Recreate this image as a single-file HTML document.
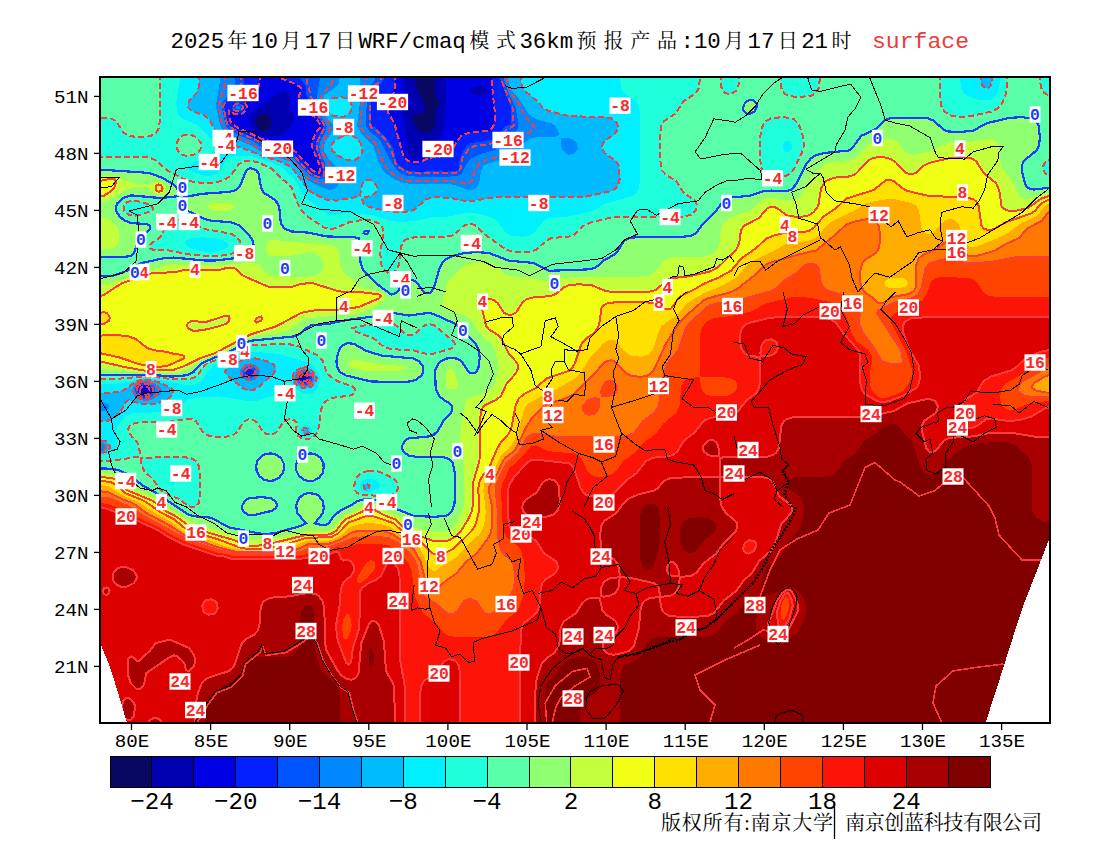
<!DOCTYPE html><html><head><meta charset="utf-8"><title>WRF/cmaq surface temperature</title>
<style>html,body{margin:0;padding:0;background:#fff}svg{display:block}text{font-family:'Liberation Serif','Noto Serif CJK SC',serif}.m{font-family:'Liberation Mono',monospace}</style></head><body>
<svg width="1100" height="850" viewBox="0 0 1100 850">
<rect width="1100" height="850" fill="#fff"/>
<defs><clipPath id="mc"><rect x="100" y="77" width="950" height="646"/></clipPath></defs>
<g clip-path="url(#mc)" shape-rendering="crispEdges">
<rect x="100" y="77" width="950" height="646" fill="#080862"/>
<path fill="#0000b0" d="M61.2,38.2 420.3,38.2 420.3,68.2 415,83.2 416.2,87.7 424,103.2 425,108.2 424.5,110.8 421.9,113.2 413.8,114.5 411.8,115.8 413.1,120.8 417,128.2 421.2,132 426.2,133.4 431.7,130.8 435.2,125.8 434.6,110.8 438.8,106 439.7,103.2 439.6,100.8 435.4,95.8 434.9,93.2 434.6,38.2 1098.8,38.2 1098.8,755.8 61.2,755.8ZM263.8,113.1 258.1,115.8 255.9,118.2 255.4,120.8 258.8,128.5 261.2,130.7 263.8,131 268.8,128.4 271.6,123.2 271.6,120.8 268.1,115.8 266.2,113.6Z"/>
<path fill="#0000e4" d="M61.2,38.2 404.8,38.2 404.8,75.8 403.4,83.2 406.2,91.9 411.2,100.5 411.8,103.2 409.4,105.8 403.8,109 402.3,110.8 402.2,113.2 404.9,123.2 406.2,136.6 408.5,145.8 408.1,155.8 411.2,158 413.7,158.3 418.8,157.8 420.8,155.8 420.6,150.8 421.6,145.8 425.1,143.2 433.8,140.6 438.8,138 442.6,133.2 444.2,128.2 446.3,93.2 445.1,73.2 445.1,38.2 1098.8,38.2 1098.8,755.8 61.2,755.8ZM143.8,388.9 142.6,390.8 143.8,392 146.2,391.6 146.2,389.4ZM278.8,92.6 256.2,109.3 250.1,115.8 249.1,118.2 249.5,120.8 252.9,128.2 257.6,133.2 261.2,135.4 266.2,136.4 278.8,136.3 283.8,134 287.8,130.8 292.5,123.2 294.4,118.2 294.1,115.8 290.8,110.8 290.1,108.2 290.8,98.2 289.8,95.8 286.2,92.2 283.8,91.2ZM481.2,85.4 470.3,88.2 469.8,90.8 471.2,93.3 478.8,96.1 481.2,96.1 486.2,93.2 487.3,90.8 486.5,88.3 483.8,85.7Z"/>
<path fill="#0420ff" d="M61.2,38.2 260.2,38.2 260.2,75.8 259,85.8 256.7,90.8 252.5,95.8 243.6,100.8 246.7,105.8 246.8,108.2 243.8,112.6 241.2,114 236.2,114.5 231.2,112.7 228.8,110.3 228.5,113.2 230.9,123.2 238.8,128.2 261.2,138.5 288.8,146.8 296.2,152.5 313,170.8 318.7,173.3 320,170.8 319.9,165.8 312.5,148.2 311.7,143.2 315.5,133.2 319.8,128.2 320.8,125.8 317.9,120.8 313.8,116.2 303.9,110.8 302.2,108.2 298.6,98.2 301.2,87.6 293.7,83.2 280.7,78.2 279.9,73.2 279.9,38.2 395.4,38.2 394.8,88.2 393.5,93.2 387.8,103.2 386.9,108.2 388.4,113.2 394.3,123.2 403.3,155.8 404.7,158.2 408.8,161.4 416.2,162.3 421.2,161.8 428.8,157.9 446.3,155.8 451.2,152.4 457.2,140.8 461.5,135.8 468.8,132.7 488.2,130.8 491.3,128.9 493.5,125.8 494.7,120.8 494.9,113.2 491.8,83.2 491.5,38.2 1098.8,38.2 1098.8,755.8 61.2,755.8ZM141.2,387.3 139.6,390.8 141.2,393.7 146.2,394.7 148.8,393.3 149.7,390.8 148.8,387.9 146.2,386.2 143.8,386ZM248.8,372.5 248.8,373.5 250,373.2ZM303.8,374.7 301.5,375.8 300.6,378.2 302.2,380.8 306.2,381.2 308.7,378.2 307.6,375.8Z"/>
<path fill="#0054ff" d="M61.2,38.2 244.8,38.2 244.1,85.8 242.8,90.8 240,95.8 226.2,102.3 224,105.8 227.8,123.2 231.2,127.3 236.2,130.2 256.2,138.9 268.8,146.3 293.8,154.7 311.2,172.9 318.8,176.4 321.2,176.4 323.1,173.2 322.7,165.8 316.6,150.8 315.5,143.2 323.9,125.8 312.4,108.2 306.2,93.8 305.6,85.8 300.2,78.2 300,38.2 384.6,38.2 384.4,78.2 381.5,83.2 373.8,87.1 371.8,90.8 370.9,123.2 372.3,125.8 379.6,130.8 384.8,135.8 391.8,145.8 394.2,150.8 396.2,161.5 398.8,165.2 408.8,171.1 421.2,171.9 431.2,170.8 446.2,171.7 456.8,170.7 459,168.2 459.7,158.2 466.6,145.8 471.2,142.9 486.2,141.2 493.8,139 498.8,135.1 503.8,127.8 506.2,125.9 511.2,124.5 511.4,108.2 497.8,73.2 497.6,38.2 1098.8,38.2 1098.8,755.8 61.2,755.8ZM141.2,384.8 137.7,388.2 137.3,390.8 138.1,393.2 140.7,395.8 143.8,396.8 148.9,395.8 151.5,393.2 152.3,390.8 151.8,388.2 149.7,385.8 146.2,384.2ZM246.2,370.1 245.1,373.2 246.9,375.8 251.2,376.1 254,373.2 253.9,370.8 251.2,368.6 248.8,368.5ZM303.8,372.9 301.2,373.6 299,375.8 298.5,378.2 301.2,382.3 306.2,383.1 309.6,380.8 310.7,378.2 308.8,374.4ZM235.2,103.2 236.2,102.2 238.8,102.3 243.5,105.8 243.9,108.2 241.2,111.2 236.2,111.8 233.8,111.1 231.8,108.2 232.7,105.8Z"/>
<path fill="#0088ff" d="M61.2,38.2 235.2,38.2 234.5,85.8 231.7,93.2 223.8,100.8 221.4,105.8 225.9,125.8 228.8,129.3 233.8,132.7 253.8,141.5 266.2,150.3 293.7,158.5 308.8,174.8 313.8,177.4 321.2,179.2 324.2,178.2 326.2,175.8 326.1,173.2 324.9,163.2 320.4,153.2 319.2,145.8 320.6,140.8 325.6,130.8 326.7,125.8 319.2,113.3 316.7,103.2 317.1,95.8 319.9,78.2 320,38.2 375.2,38.2 375.1,78.2 374.3,80.8 370,85.8 368.2,90.8 365.5,118.2 366,125.7 368.8,130.3 380.4,140.8 391.9,163.2 396.2,169.3 401.2,173.4 406.2,175.7 421.2,177.1 448.8,176.9 458.8,175.4 462.1,173.2 467,163.2 471.2,158.2 478.8,154.5 496.2,149.6 512.1,135.8 518.2,128.2 518.6,123.2 515.1,105.8 508.8,93.6 502.6,75.8 502.3,38.2 1098.8,38.2 1098.8,755.8 61.2,755.8ZM141.2,382.9 136.5,385.8 135.3,388.2 135.6,393.2 137.5,395.8 141.2,398.2 143.8,398.7 148.8,397.9 152.6,395.8 155.5,390.8 155.2,388.2 153.2,385.8 146.2,382.5ZM246.2,367.2 243,370.8 242.7,373.2 243.6,375.8 248.8,378.5 253.8,377 256.4,373.2 256.4,370.8 255,368.2 251.2,366.3ZM301.2,371.8 298.8,373.2 297,375.8 296.6,378.2 297.4,380.8 301.2,384.1 306.2,384.7 308.8,383.8 311.8,380.8 312.6,378.2 312.1,375.8 310,373.2 306.2,371.4ZM237.3,105.8 239,105.8 240.2,108.2 238.8,109 235.4,108.2 236.2,106.1Z"/>
<path fill="#00bcff" d="M61.2,38.2 219.9,38.2 219.7,83.2 215.8,105.8 219.7,123.2 222.7,130.8 228.8,136.1 251.2,145.6 263.8,153.2 291.2,161.7 296.2,165.6 303.2,175.8 308.8,180.8 326.2,189.3 331.2,189.9 335.7,188.2 337.9,185.8 339.5,180.8 339.5,173.2 337.8,168.2 328,158.2 324.1,150.8 324,145.8 325.7,140.8 334.1,128.2 333.7,125.8 323.3,113.2 321.5,108.2 321.3,103.2 324.1,95.8 328.8,91.5 334.7,88.2 338.9,83.2 340.1,75.8 340.1,38.2 359.8,38.2 359.8,103.2 357.1,125.8 361,133.2 373.3,145.8 378.9,163.2 383.1,170.8 391.9,178.2 403.8,183 413.8,184.1 451.2,184.3 456.2,185.4 468.8,190.2 473.8,189.4 477.9,185.8 479.6,180.8 481.2,170 483.8,165.9 486.2,164.2 506.3,158.4 513.8,155.3 518.5,150.8 523.8,143.2 531.2,138.1 538.8,137 556.2,136.6 558.8,135 558.4,130.8 555.3,125.8 551,123.2 536.2,119.1 528.8,114.3 520.6,100.8 511.2,89.8 508.8,83.3 508.2,78.2 508.1,38.2 1098.8,38.2 1098.8,755.8 61.2,755.8 61.2,411.3 103.8,410.9 108.8,408.7 109.6,405.8 106.2,403.4 101.2,402.8 61.2,402.7ZM138.8,382.1 133.9,385.8 132.2,390.8 134.3,395.8 138.8,399.6 143.8,400.7 151.2,399.8 158.5,395.8 161,393.2 161.8,390.8 161.1,388.2 158.7,385.8 154,383.2 146.2,380.9ZM243.8,365.4 239.6,370.8 239.6,373.2 242.3,378.2 248.8,381.1 253.8,380.2 256.3,378.2 258.4,375.8 259.8,370.8 257.1,365.8 251.2,363.4 246.2,364ZM301.2,370 296.4,373.2 295,375.8 295.5,380.8 298.8,384.4 301.2,385.7 308.8,385.8 311.2,384.3 313.8,380.8 314.1,375.8 308.8,370.4 306.2,369.6ZM563.8,137.7 561.2,138.3 560.6,140.8 561,145.8 562.8,150.8 565.2,153.2 568.8,154.7 573.8,153.9 576.2,151.7 577.7,148.2 576.9,143.2 575,140.8 571.2,138.7ZM103.8,443.2 101.2,443.3 98.6,445.8 98.6,448.2 101.2,450.5 103.8,450.6 106.7,448.2 106.8,445.8Z"/>
<path fill="#00f0ff" d="M61.2,38.2 200,38.2 199.4,85.8 196.3,93.2 189,100.8 187.8,105.8 188.6,108.2 191.2,110.7 203.8,115.2 208.8,118.7 216.9,133.2 221.2,138.2 226.2,141.9 236.2,146.3 251.2,151.3 263.8,156.7 278.2,160.8 288.8,165.6 293.8,170.2 308.8,190.1 313.8,193.7 326.2,199.7 336.2,200.6 358.8,196.6 360.2,195.8 361,188.2 362.9,183.2 366.2,180.3 371.2,180.3 376.2,184.9 377.1,188.2 376.7,190.8 374.9,193.2 371.2,195.6 361.8,198.2 363.3,203.2 366,205.8 373.6,208.2 388.8,211.3 398.8,211.9 408.8,211.4 413.8,209.9 426.2,199.2 433.8,197.4 448.8,197.6 463.8,200.7 471.2,201.1 496.2,197.1 586.2,196.6 611.2,191 616.1,188.2 618,185.8 619.8,178.2 618.7,165.8 615.8,160.8 604.5,153.2 602.1,148.2 602.8,143.2 604.5,140.8 613.8,134.8 617.1,130.8 617.8,125.8 616.2,121.9 611.2,118.4 606.2,117.4 568.8,116 548.8,111.1 543.4,108.2 536.2,100.2 526.2,92.1 521.8,85.8 520.3,75.8 520.3,38.2 980.3,38.2 980.7,80.8 982.6,85.8 986.2,88.3 988.8,87.8 990.6,85.8 991.9,80.8 992.2,38.2 1098.8,38.2 1098.8,755.8 61.2,755.8 61.2,422.1 106.2,421.3 111.2,419.5 116.3,415.9 120.8,410.8 126.2,401.3 128.8,400 141.2,403.9 148.8,404.4 156.2,403.6 163.8,401.2 168.7,398.2 173.2,393.2 173.3,390.8 171.2,388.2 161.8,383.2 151.2,380.2 143.8,379.4 136.2,381.4 123.8,390.2 118.8,392 108.8,392.7 61.2,392.8ZM251.2,358.1 243.8,359.8 230.7,365.7 226.9,368.2 225.3,370.8 225.5,373.2 227.5,375.8 242.7,388.2 248.8,390.6 253.8,390 258.8,387.2 273.8,373.2 275.8,368.2 273.8,364.6 268.8,361.9 258.8,358.8ZM301.2,367.8 296.2,370.3 293.8,373.2 292.6,375.8 293.2,380.8 296.2,384.6 301.2,387.7 306.2,388.1 311.2,387.1 314.9,383.2 316.6,378.2 316.3,375.8 311.2,369.5 306.2,367.2ZM363.8,485.3 363.8,488.5 366.2,489.6 369.2,488.2 369.6,485.8 368.8,484.7 366.2,483.7ZM101.2,440.5 96.5,443.2 95.2,445.8 95.4,448.2 98.8,451.8 103.8,452.7 107.8,450.8 109.6,448.2 109.8,445.8 106.2,441.3ZM306.2,427.7 303.8,428.4 302.3,430.8 303.4,433.2 306.2,434.1 308.4,433.2 309.5,430.8ZM332.3,98.2 341.2,97.3 346.2,98 348.8,99.4 351.2,103.2 351.7,105.8 351,110.8 348.8,114.2 343.8,116.5 338.8,116.7 333.8,115.9 328.8,112.9 326.2,108.2 326.2,104.4 328.8,100.1ZM343,135.8 346.2,134.6 351.2,135.1 356.2,138.2 360.6,143.2 362.6,150.8 361.2,154.9 358.3,158.2 353.8,160.2 346.2,159.6 338.2,155.8 332.2,150.8 331.2,145.8 332.4,143.2 336.2,139.6Z"/>
<path fill="#20ffdc" d="M61.2,38.2 180,38.2 179.9,80.8 176.3,100.8 176.7,110.8 178.8,115.3 181.6,118.2 196.2,124.4 201.2,128.3 212.4,140.8 215.5,145.8 216,148.2 214.8,150.8 188.5,165.7 187.8,168.2 188.8,169.3 195,173.2 206.2,176 213.8,175.3 218.2,173.2 220.9,170.8 225.7,160.8 228.8,157.7 238.8,155.5 251.3,156 273.8,163.2 282.6,168.2 293.8,178.5 297.2,183.2 302.1,193.2 306.2,198.6 328.8,214.6 333.8,215.1 346.2,213 353.8,213.1 373.8,215.4 391.2,221 401.2,221.9 413.8,221.2 431.2,217.5 448.8,216.5 463.8,213.4 473.8,213.1 483.8,215 492.8,218.3 496.4,220.8 506.4,233.2 511.3,235.8 521.2,236.7 528.8,235.7 533.6,233.2 543.8,220.9 548.6,218.2 568.8,216.5 591.2,211.4 606.7,203.2 631.2,196.4 636,193.2 637.8,190.8 639.4,185.8 640,178.2 639.7,110.8 638.8,105.8 636.2,101.2 624.2,93.2 621.2,88.2 620.1,78.2 620,38.2 960,38.2 960.1,78.2 961.3,88.4 964,93.2 968.8,96.4 978.8,99.6 986.2,100.5 991.2,99.4 993.8,97.9 997.5,93.2 999.2,88.2 999.9,78.2 1000,38.2 1098.8,38.2 1098.8,755.8 61.2,755.8 61.2,451.9 88.8,451.9 101.2,455.4 106.2,455 110.2,453.2 116.1,448.2 117.3,445.8 116.4,430.8 117.7,425.8 123.8,418.1 131.2,413.6 136.2,412.7 161.2,412.4 171.2,411.3 177.6,408.2 188.8,399 196.2,397 226.2,397.3 248.8,401.3 258.8,400.4 273.8,395.3 276.4,393.2 283.8,383.4 286.2,381.4 288.8,381.3 296.2,388.7 301.2,392 306.2,394.1 311.2,394 313.8,392.7 317.6,388.2 319.9,378.2 319.5,375.8 316.2,369.5 313.8,366.2 308.8,362.7 278.8,354 253.8,351.6 246.2,353.1 213.6,365.8 208.8,370.3 202,380.8 193.8,384.9 186.2,384.9 153.8,378.7 143.8,378 128.8,381.8 111.2,384.3 61.2,384.8ZM191.2,237.9 185.8,240.8 185.2,243.2 186.7,245.8 191.3,248.2 201.2,251.2 208.8,252.2 216.2,251.6 226.4,248.2 228.6,245.8 227.8,243.2 224.1,240.8 216.2,238.3 203.8,237.3ZM363.8,480.2 361.2,482.3 359.8,485.8 361.2,490.7 363.8,492.2 368.8,492.3 376.2,489.9 379.2,488.2 380.4,485.8 378.8,482.1 373.8,479.2 368.8,478.8ZM783.8,142.9 782.6,145.8 783.6,150.8 786.2,152.6 788.8,152.4 791.9,148.2 791.4,143.2 788.8,141.1 786.2,141.1ZM171.2,481.9 170.4,483.2 171.2,484.9 173.8,485 174.5,483.3 173.8,482.3ZM303.8,425.5 300.3,428.2 299.6,430.8 300.2,433.2 303.8,436.1 308.8,435.6 311.5,433.2 312.2,430.8 311.3,428.3 308.8,425.8 306.2,424.9Z"/>
<path fill="#58ffa8" d="M61.2,38.2 159.9,38.2 159.8,120.8 158.8,128.2 155.7,133.2 151.2,135.8 146.2,136.8 136.2,136.9 128.8,135.8 123.8,132.8 115.8,120.8 108.8,117.6 61.2,117ZM700.1,38.2 720,38.2 720.7,85.8 723.8,92.2 728.8,94.3 732.6,93.2 735.8,90.8 739.3,83.2 739.9,38.2 780,38.2 780.1,78.2 781.3,88.2 783.8,92.6 786.2,94.7 791.2,96.4 798.8,97 811.3,95.8 816.2,92.6 818.7,88.2 819.9,78.2 820,38.2 939.9,38.2 940,95.8 941.2,105.8 943.9,110.8 946.4,113.2 951.2,115.7 961.2,116.8 971.3,116 993.8,110.7 998.8,107.5 1003.4,100.8 1006,93.2 1007,85.8 1007.3,38.2 1040,38.2 1040.3,83.2 1041.3,88.2 1043.8,92.6 1048.8,95.7 1053.8,96.7 1098.8,97 1098.8,157.1 1053.8,157.7 1046.2,161.2 1043.8,164.4 1042.7,168.2 1045,173.2 1051.2,176 1098.8,176.6 1098.8,755.8 61.2,755.8 61.2,461.1 111.2,460.9 138.8,456.6 139.7,455.8 139.6,450.8 137.7,443.2 129.1,433.2 128.1,430.8 128.8,426.8 131.2,424.2 138.8,422.4 168.8,421.9 186.2,418.9 191.2,418.8 196.2,421.3 202.1,430.8 206.2,434.7 211.3,436.4 221.2,436.9 228.8,436.4 233.8,434.7 238,430.8 243.8,421.5 248.8,419.2 255.2,420.8 263.8,432.5 266.2,434.1 271.2,434.8 276.2,432.5 283.8,421.5 286.2,419.8 291.2,419.1 295.2,420.8 296.9,423.2 296,430.8 297.9,435.8 303.8,439.5 308.8,439.2 315,435.8 318,430.8 319.6,423.2 320.6,410.8 323.9,403.2 326.4,400.8 331.2,398.1 351.2,395.3 354.3,393.2 355.4,390.8 354.6,388.2 351.2,385.8 338.8,381.8 329.5,375.8 326.2,370.9 322.6,360.8 318.6,355.8 297.3,345.8 288.8,344.2 256.2,344.7 248.6,345.8 234.2,353.2 207.5,363.2 204.4,365.8 197.1,375.8 193.8,377.7 188.8,379 173.8,379.5 153.8,376.7 143.8,376.5 113.8,379.1 61.2,379.3 61.2,156.8 148.8,157.4 156.2,160.5 167.7,170.8 183.8,178.8 193.8,182 206.2,183.2 216.2,182.5 226.2,178.9 231.2,175 238.8,164.3 243.8,161.3 251.2,160.7 258.8,162.8 271,168.2 280.9,178.2 288.8,184 291.8,188.2 297.5,203.2 301.4,210.8 306.2,215.5 323.8,227.4 328.8,228.8 333.8,228.7 348.8,222.4 361.2,220.1 371.2,220.3 378.8,223.4 382.7,228.2 383.6,233.2 380.4,250.8 380.7,263.2 383.8,270.1 388.8,273.5 393.8,272.4 397.6,268.2 399.3,263.2 401.2,245.8 403.8,241.4 406.2,239.4 413.8,237.4 443.8,236.9 451.2,235.8 456.2,233.2 463.7,225.8 468.8,223.9 471.2,223.9 476.3,225.8 483.8,233.6 506.2,249.9 516.2,252 531.2,251.5 536.2,249.9 546.2,240.8 551.2,238.2 568.8,236.5 573.8,234.9 583.4,225.8 591.2,222.3 608.8,218.1 616.2,217.2 683.8,216.6 691.2,214.6 695.6,210.8 697.3,205.8 695.4,200.8 684,193.2 676.2,181.1 666.2,174.9 662.4,170.8 660.2,160.8 660.1,135.8 661.2,125.9 663.8,121.3 675.9,113.2 683.8,101.1 695.8,93.2 698.7,88.4 700,78.2ZM771.2,118.2 766.4,120.8 763.9,123.2 760.6,130.8 760,158.2 761.2,168.2 763.8,172.6 768.8,175.6 778.8,176.7 786.2,175.8 791.2,172.6 793.8,169.3 801.7,153.2 803.9,145.8 802.8,135.8 798.8,124.3 793.8,119.2 783.8,117ZM141.2,457.7 141,463.2 144.1,470.8 151.7,478.2 161.8,490.8 168.8,495.2 178.8,498.9 188.8,506.3 193.8,507.1 196.7,505.8 198.6,503.2 199.7,498.2 200,475.8 198.8,465.8 195.6,460.8 191.2,458.2 183.8,457.1ZM131.2,200.7 126.2,202.7 123.6,205.8 123.9,210.8 128.8,214.9 133.8,215.8 141.2,214.5 152,210.8 153.5,208.2 151.3,205.8 145.6,203.2 136.2,200.8ZM168.8,219.4 166.2,221.9 163.6,230.8 161.2,235.7 158.8,238.4 151.7,243.2 149.8,245.8 150.1,248.2 151.2,249.2 156.2,250.4 168.8,250.4 188.8,254.4 211.2,256.6 221.2,255.7 233.6,253.2 238.3,250.8 240.5,248.2 241.3,245.8 240,240.8 236.2,236.7 231.2,233.7 206.2,229.4 192.3,223.2 186.2,221.6 173.8,219ZM383.8,323 361.2,325.8 352.4,328.2 353.5,330.8 373.8,338.5 382.4,345.8 387,348.2 393.8,349.4 411.2,349.8 426.2,353.9 431.2,354.4 452.2,348.2 454.7,345.8 454.6,343.2 452.9,340.8 433.8,325 428.8,324.1 426.2,324.6 423.7,325.8 415.9,333.2 411.2,335.2 408.8,335.2 403.8,333 396.5,325.8 393.8,324.2 388.8,323ZM368.8,470.7 361.2,473 356.1,478.2 354.2,485.8 355.3,490.7 357.5,493.2 363.8,495.3 386.3,495.8 391.2,495.3 396.2,492.4 398.1,488.2 398.1,485.8 396.2,481.1 393.3,478.2 378.8,471.6ZM181.9,135.8 188.7,134 196.2,136.9 201.2,143.3 201,148.2 199.5,150.8 193.8,154.7 188.8,155.8 183.8,155.4 179.6,153.2 176.7,148.2 176.7,143.2 178.8,138.7Z"/>
<path fill="#90ff70" d="M747.9,100.8 751.2,99.9 753.8,100.5 756.2,102.8 757.1,105.8 755.2,110.8 752.1,113.2 748.8,114.1 746.2,113.5 743.8,111.2 742.9,108.2 744.8,103.2ZM888.4,118.2 898.8,117 926.2,117.6 933.8,120.7 943.8,129.9 948.8,131.5 958.8,132.1 972.9,130.8 986.8,123.2 1008.8,118 1021.2,117.1 1031.2,118.3 1036.2,121.4 1038.7,125.8 1039.9,138.2 1038.8,145.8 1036.2,150.7 1024,160.8 1021.7,165.8 1021.8,170.8 1023.8,179 1026,185.8 1028,188.2 1033.8,189.6 1051.2,187.4 1098.8,187.3 1098.8,755.8 61.2,755.8 61.3,468.4 106.2,468.5 118.8,470 128.8,474.8 143.1,485.7 156.2,493 188.8,514.8 193.8,516.2 211.2,517.7 228.8,527.3 258.8,533.4 266.2,534 274.7,533.2 301.4,525.8 305.9,523.2 297.4,513.2 296.1,505.8 298.9,498.2 303.8,494.3 308.8,492.9 316.2,494.3 318.8,495.9 322.5,500.8 323.9,508.2 322.8,513.2 315,523.2 321.2,525.1 326.2,524.7 328.8,523.4 334,515.8 341.2,509.9 350.3,505.8 357.8,500.8 366.2,499 378.8,500.4 388.8,506.1 413.8,515.8 433.8,516.9 446.2,515.8 448.8,514.5 452.2,510.8 454.6,503.2 454.8,473.2 452.8,463.2 448.8,459 443.8,457.4 416.2,456.8 408.8,455.6 403.8,452.1 402.1,448.2 402.1,445.8 404.7,440.8 408.8,438.4 428.7,436.4 433.8,434.7 437.9,430.8 443.6,420.8 451.2,412.9 452.4,408.2 451.8,405.8 449.6,403.2 443.8,400 438.9,395.7 435.7,388.2 435.1,370.8 438.7,363.2 441.6,360.8 446.2,358.6 451.2,357.9 456.2,358.5 461.2,361.1 468.8,372 471.3,373.4 473.8,373.3 476.2,371.8 478.4,368.2 479.7,358.2 479.1,350.8 475.3,343.2 458.8,326.7 453.8,323.2 433.8,314.1 428.7,312.9 408.8,315.5 391.2,312.7 373.8,316.4 346.2,320.1 328.8,323.8 311.2,325.3 306.2,328.2 301.2,333.2 293.8,336.4 249.7,340.8 228.8,351.8 203.8,362.1 198.9,365.8 193.8,371.8 188.8,374.4 183.7,375.6 171.2,376.6 151.2,374.7 61.2,374.7 61.3,276.9 111.2,276.2 127.1,270.8 141.2,263.1 166.2,257.7 173.8,257.6 203.8,260.4 216.2,260.4 236.2,258 248.2,253.2 253.1,248.2 253.7,245.8 253,240.8 249.6,235.8 238.8,225.2 231.2,222.2 211.2,220.8 203.8,218.6 187.5,210.8 184.2,208.3 182.4,205.8 181,200.8 181.4,198.3 183.8,197.3 201.2,193.9 228.8,191.9 234.1,190.8 238.1,188.2 240,185.8 246.2,170.8 248.7,168.8 251.2,168.2 256.2,170.4 258.5,173.2 261.2,188.3 263.8,192.8 273.8,199.1 277.6,203.2 279.3,208.2 280.9,223.2 283.9,228.2 291.2,231.4 308.8,232.7 326.2,236.4 353.8,237.2 358.8,238.2 359.8,240.8 360.2,260.8 362.1,268.2 365.7,273.2 379.3,285.8 391.2,294.5 396.2,292.8 406.2,281.3 411.2,279.6 416.2,281.6 423.8,292.1 426.2,293.4 429.1,293.2 431.2,291.9 433.8,288 439.5,268.2 443.7,260.8 451.2,256.5 466.2,252.6 478.8,252.1 488.8,252.9 508.8,260.6 533.8,263 546.2,269.9 551.2,271.1 591.2,268.9 596.2,267.1 603.8,260.5 615.9,253.2 623.8,241.2 628.8,238.3 638.8,237.1 683.8,236.9 693.8,234.8 698.3,230.8 705.7,220.8 716.2,211.1 723.8,200.9 728.4,198.2 748.8,195.9 766.2,190.9 786.2,191.2 791.2,189.8 796.2,184.1 806.2,164.1 811.2,158.1 816.2,155.2 823.8,153 848.8,150.6 852.2,148.2 861.2,135.8 876.2,128.5 883.8,120.8ZM61.2,170.8 108.8,170.2 148.8,172.9 161.2,177.3 171.8,183.2 177,188.2 178.7,193.2 178.3,195.8 158.7,198.1 138.8,195.5 131.2,195.4 123.8,197.7 117.4,203.2 115.7,208.2 116.1,210.8 119,215.8 123.8,220.1 131.2,223.2 146.2,223.9 149.9,225.8 150.2,228.2 148.3,230.8 141.2,235.6 138.8,238.5 133.8,253.2 131.2,255.7 123.7,257.1 61.2,257.1ZM365.1,230.8 368.7,230.8 367.6,233.2 366.2,234.1 363.4,233.2ZM347.8,343.2 353.8,343.8 366.2,350.8 381.2,355.5 413.8,358.5 418.8,361.1 422.5,365.8 423.3,368.2 422.6,373.2 421.1,375.8 416.2,379.7 411.2,381.3 403.8,382 371.2,381.5 346.2,375.6 341.6,373.2 339.1,370.8 336.8,365.8 336.5,360.8 338,353.2 340.2,348.2 343.8,344.6ZM261.7,455.8 266.2,453.8 271.2,453.4 276.2,454.6 281.1,458.2 283.6,463.2 284.1,468.2 282.7,473.2 278.8,478.1 273.8,480.5 268.8,480.9 263.8,479.7 259,475.8 256.6,470.8 256.3,465.8 257.5,460.8ZM301.7,455.8 306.2,453.8 311.2,453.4 316.2,454.6 321,458.2 323.4,463.2 323.7,468.2 322.5,473.2 318.7,478.1 313.8,480.6 308.8,481.1 303.8,479.7 298.9,475.8 296.4,470.8 295.9,465.8 297.3,460.8ZM249.2,498.2 261.2,497.1 270.7,498.2 275,500.8 276.6,503.2 276.9,505.8 275.9,508.2 272,510.8 253.8,515.1 248.8,515.1 243.8,512 242.1,508.2 242.1,505.8 244.7,500.8Z"/>
<path fill="#c4ff3c" d="M877.5,140.8 888.8,138.5 893.8,139.5 898.4,143.2 906.2,153 908.8,154.3 913.8,154.9 932.3,150.8 943.8,143.9 948.8,142.5 971.2,141.5 986.2,138.9 991.2,138.9 996.2,141.5 998.7,145.8 1000.6,163.2 1002.1,168.2 1012.2,180.8 1018.8,195.3 1022.4,198.2 1028.8,199.1 1041.2,194.2 1051.2,192.3 1098.8,192 1098.8,755.8 61.2,755.8 61.2,473.2 106.3,473.4 116.2,475.1 121.8,478.2 131.2,486.8 156.2,498.1 168.8,507.6 191.2,521.8 225.7,533.2 251.2,539.9 271.2,538.6 306.2,531.4 328.8,530.8 333.8,527.7 338.8,520.2 343.5,515.8 354.7,510.8 363.8,504.3 368.8,503.1 376.2,504.6 385.1,510.8 398.7,516.1 408.8,524.9 413.8,527.7 433.8,531.9 443.8,531.9 448.8,530.8 452.6,528.2 456.2,523.6 461.6,513.2 463.8,505.8 464.4,465.8 460.5,445.8 460,435.8 460.9,425.8 465.4,403.2 466.2,400.6 468.8,397.8 488.7,391.1 492.5,388.2 495,383.2 498.6,368.2 497.8,360.8 493.2,345.8 479.5,333.2 471.3,319.7 463.8,315 448.8,310.6 445.1,308.2 443.2,305.8 443.1,298.2 447,283.2 448.8,280.4 463.5,265.8 471.2,262.6 488.8,262.8 495.7,265.8 503.7,273.5 508.8,276 528.8,277.6 546.2,280.9 571.2,277.2 638.8,276.8 648.8,275.7 653.8,273.2 663.7,260.9 668.8,258.2 676.2,257.1 703.8,256.7 711.2,254.7 713.8,253.1 717.7,248.2 719.4,243.2 721.1,228.2 723.7,223.2 728.8,218.6 736.2,215.1 751.2,210.2 761.2,200.9 766.2,198.6 773.8,197.9 788.8,200.5 796.2,199.4 801.2,195.5 808.8,180.3 822.5,165.8 828.8,162.8 846.2,161.4 853.8,159.1 858.8,155.3 868.8,143.8ZM107.8,175.8 116.2,176 123.8,180.2 136.2,183.4 148.8,184.7 156.2,181.1 161.2,181.6 165.5,185.8 165.5,190.8 163.5,193.2 158.8,194.9 154.2,193.2 148.8,187.9 146.2,187.1 133.8,187.1 126.2,189.8 111.2,199.3 103.8,202.1 61.2,202.3 61.2,177.1 93.8,177ZM212.5,203.2 229.1,203.2 234.1,205.8 234.1,208.2 228.8,210.8 213.1,210.8 208,208.2 207.7,205.8ZM61.2,218.2 61.2,216.8 98.8,216.9 106.2,218 113.8,222.9 117.8,228.2 119.7,235.8 118.7,243.2 117.1,245.8 113.8,248.1 108.8,249.3 61.2,249.7ZM268.7,240.8 273.8,239.3 288.8,242 315.8,243.2 333.8,245.9 337.1,248.2 338.7,250.8 340.4,265.8 343.9,273.2 353.8,280.4 361.2,287.2 381.2,292 384.9,295.8 385.1,298.2 383.8,300.3 373.8,307.5 366.6,310.8 353.8,314 306.2,318.4 301.3,320.8 293.8,327.4 288.8,330.2 276.2,333.6 258.8,335.4 248.8,338.3 223.8,351.6 201.2,360.6 186.2,370.3 176.4,373.2 146.2,373.3 106.2,369.4 61.2,369.2 61.2,283.8 101.2,283.8 111.2,282.8 148.8,270.2 158.2,268.2 166.2,265.3 173.8,264.4 213.8,265.5 253.8,262.7 258.8,264.4 266.6,273.2 273.8,276.3 301.2,276.9 313.7,276.1 320.5,273.2 323.4,268.2 322.6,260.8 318.8,255.7 313.8,253.1 308.8,252.2 286.2,256.6 271.2,256.2 268.8,255.1 266.2,250.8 266.2,245.7ZM350.9,360.8 356.2,360.1 383.8,364.9 402.6,365.8 407.1,368.2 400.7,370.7 365.7,370.8 351.2,367.7 349.3,365.8 349.1,363.2ZM447.1,370.8 448.8,368.9 451.2,368.6 453.8,370.8 457.7,383.2 457.8,385.8 456.2,389 451.2,389.6 448.8,388.4 446.9,385.8 445.7,378.2Z"/>
<path fill="#f0ff14" d="M872.7,158.2 883.8,157.3 891.2,159.1 896.2,162.7 903.8,171.1 906.8,173.2 911.2,174.5 916.2,172.9 923.4,165.8 928.8,163 951.2,157.7 963.8,157.3 971.2,158.3 976.2,161.2 983.8,173.2 996.2,183.3 999.4,190.8 1001.4,205.8 1003.8,208.8 1008.8,210.9 1016.2,210.6 1027.8,208.2 1041.2,198.6 1048.8,196.1 1098.8,195.5 1098.8,755.8 61.2,755.8 61.2,477 103.8,477.1 113.8,478.7 118.8,481.8 124.8,488.2 128.4,490.8 152.7,500.8 165.4,510.8 176.2,516.5 191.2,527.6 233.8,540.1 248.8,545.9 257.5,545.8 273.8,542.9 306.2,534.9 326.2,534.8 331.2,533.8 336.3,530.8 341.7,523.2 346.2,519 368.7,508.7 373.8,509.5 383.8,515 396.2,519.8 406.2,529.9 411.2,532.6 433.8,541.1 441.2,541.5 448.8,540.4 456.2,536 461.1,530.8 468.8,518.2 472,510.8 473,503.2 472.9,483.2 479.5,460.8 480.2,418.2 481.2,410 483.9,405.8 496.2,399.8 501.1,395.8 506.9,383.2 516,373.2 518.1,368.2 517.4,363.2 508.5,353.2 501.2,338.2 498.8,335.7 488.8,329.3 486.1,325.8 481.8,308.2 482.9,303.2 485,300.8 488.8,299.1 493.8,299.8 497.8,303.2 503.8,312.5 506.2,314.2 511.2,314.9 516.2,312.5 522,303.2 526.2,299.4 531.2,297.7 551.2,296 556.2,293.6 563.8,287.4 568.8,285.2 578.8,284.3 591.2,285 605.1,290.8 611.2,291.9 648.8,291.8 656.2,289.9 666.2,280.7 671.2,278.2 691.2,276 711.2,271.1 718.8,266.6 736.2,249.5 739.2,243.2 740.9,230.8 743.8,225.8 758.8,218.2 767.3,208.2 771.2,206.6 773.8,206.8 777.2,208.2 786.2,215 791.2,216.4 801.2,216.8 808.8,215.3 813.8,212 818.3,205.8 821.2,188.2 823.8,183.4 826.2,180.9 833.8,177.7 848.7,176.5 853.8,174.9 858.8,170.8 866.2,162ZM100.2,180.8 111.2,178.8 113.8,179.1 115.8,180.8 115.3,185.8 114,188.2 103.8,195.8 98.8,195.6 93.8,191.3 91.2,190.9 61.2,190.9 61.2,185.5 91.2,185.5 93.8,185.1ZM156.1,185.8 158.8,184.4 161.2,185.2 162.6,188.2 161.7,190.8 158.8,191.8 156.6,190.8 155.5,188.2ZM225.5,268.2 236.2,268.7 241.2,274.5 243.8,276.1 268.8,286.9 291.2,287 298.8,284.6 311.2,282.6 338.8,291.4 366.2,292.6 378.8,294.5 381.1,295.8 379.5,298.2 361.2,306.1 356.2,307.4 338.8,310 316.2,310 301.2,312.9 276.2,326.3 251.2,334.2 214.7,353.2 201.2,357.8 183.8,366.2 173.8,369.7 146.2,370.9 123.8,366.9 101.2,361.6 61.2,361.2 61.2,297.2 98.8,296.8 103.8,294.8 121.9,283.2 151.2,273.5 176.2,271.9 183.8,270.1 218.8,270ZM226.2,315.5 206.2,321.9 191.2,321.2 187.8,323.2 186.8,325.8 188.8,328.7 193.8,331.2 206.2,329.4 218.8,326.3 226.2,323.7 228.8,321.4 229.6,318.2 228.8,316.3Z"/>
<path fill="#ffe000" d="M884.4,180.8 888.8,179.5 891.2,179.8 906.2,190.5 928.8,196 966.2,197.3 973.8,199.4 976.2,201.4 978.7,205.8 981.5,225.8 983.8,228.6 988.8,230.2 993.8,229.2 1006.2,222.1 1031.2,213.4 1035,210.8 1041.4,203.2 1048.8,199.5 1058.8,198.6 1098.8,198.6 1098.8,755.8 61.2,755.8 61.2,480.7 101.2,480.8 111.2,482.2 116.2,485.3 125.4,493.2 143.9,500.8 162.2,513.2 173.8,519.1 188.1,530.8 216.2,538.7 241.9,548.2 251.2,549.1 267.2,548.2 281.9,545.8 306.2,537.9 331.2,537.1 338.4,533.2 348.8,522.4 366.2,516.1 371.2,515.5 393.8,523.3 403.9,533.2 421.2,542 428.8,550.5 433.8,554.1 438.8,554.1 448.8,551.5 453.8,548.5 471.8,530.8 475.1,525.8 479.2,510.8 478.3,488.2 479.8,480.8 482.6,475.8 488.9,468.2 497.3,448.2 501.2,442.1 508.8,433.6 511.2,429 515.5,405.8 518.8,398.5 523.8,394.2 535.8,388.2 546.2,378.6 568.8,370.9 572.2,368.2 574.9,363.2 581.7,343.2 586.2,338.5 593.8,333.3 597.8,328.2 599.4,323.2 600.6,310.8 603.8,305.1 607.2,303.2 613.8,302.3 646.2,302.2 653.8,303.3 663.8,309.1 668.8,309.3 671.2,308.3 678.7,298.2 683.8,294.2 693.8,289.7 703.8,283.8 718.8,277.5 731,270.8 741.6,258.2 756.1,248.2 766.2,238.6 773.8,235.6 783.8,233.1 803.8,231.9 809.3,230.8 813.8,227.7 823.8,216.4 836.1,208.2 846.2,198.6 873.8,190ZM99,313.2 103.8,312.1 106.9,313.2 109.2,315.8 109.7,318.2 108.9,320.8 103.8,324 101.2,324.4 98.8,323.4 97.5,318.2ZM256.3,318.2 261.2,316.4 262.3,318.2 261.2,320.8 256.2,322.6 255.2,320.8ZM98,335.8 123.8,335.3 131.2,336.9 136.2,339.1 147.3,348.2 158.8,351.3 166.2,351.6 173.8,353.9 181.2,354.8 183.9,355.8 184.4,358.2 168.8,365.4 161.2,366.7 151.2,366.6 138.8,364 118.8,357.3 93.8,351.8 61.2,351.6 61.2,337.2 91.2,337.1Z"/>
<path fill="#ffac00" d="M877.4,200.8 891.2,198.5 911.2,203 916.1,205.8 919.1,210.8 921.4,228.2 923.8,232.1 926.2,233.8 928.8,234.3 933.8,232.7 941.7,223.2 946.2,219.7 951.2,219 953.8,219.7 958.8,224.6 966.2,244.2 968.8,246.6 971.2,247.4 976.2,246.7 996.2,238.7 1008.8,232.6 1021.2,223 1036.2,216.4 1045.3,205.8 1049.6,203.2 1058.8,202.1 1098.8,202.1 1098.8,755.8 61.2,755.8 61.2,485.3 101.2,485.3 108.8,486.4 123,495.8 138.8,502.1 155.3,513.2 171.2,521.8 186.2,533.5 213.8,541.7 223.3,545.8 243.8,550.7 262,550.8 288.8,548.3 306.2,540.9 313.8,540.2 326.2,541 333.8,539.4 340.3,535.8 348.8,528 356.2,524.9 368.8,522.6 383.8,524.8 391.2,527.4 403.8,537.4 416.2,544.2 419.8,548.2 428.8,566.8 431.2,570.2 433.8,571.2 436.2,570.4 443.8,564.6 453.8,559.3 458.3,555.8 466.6,545.8 478.3,535.8 482,530.8 484.4,523.2 485.6,513.2 485.4,505.8 483.2,490.8 484.4,483.2 493.7,471.3 500.8,455.8 509,448.2 513.8,441.4 518.3,430.8 523.8,410.9 526.2,405.9 528.7,403.2 543.8,395.1 554,390.8 576.2,377.5 582.2,370.8 588.8,359.3 603.8,343 608.8,339.9 613.8,339.9 616.2,341.3 623.8,350.9 631.2,355.8 641.2,356.7 648.8,354.5 653.7,348.2 657.9,333.2 661.7,325.8 676.2,315.9 686.2,304.5 690.9,300.8 703.8,293.2 716.6,288.2 733.8,279.3 738.8,275.3 746.3,265.8 752.9,260.8 774,250.8 786.2,243.5 791.2,242.3 806.2,241.2 813.8,239 818.8,235.3 826.3,225.8 831.2,221.7 854,210.8 866.2,203.5ZM891.2,278 886.2,280.2 884.4,283.2 885.1,285.8 888.8,288 900.6,288.2 906.8,285.8 907.8,283.2 907.1,280.8 903.9,278.2 898.8,277.5Z"/>
<path fill="#ff7800" d="M1053.5,208.2 1061.2,207.4 1098.8,207.4 1098.8,372.6 1053.8,373.1 1043.8,376.9 1034.1,383.2 1032,385.8 1032.3,388.2 1036.2,390.5 1046.2,392.5 1098.8,393 1098.8,755.8 61.2,755.8 61.2,491.1 98.8,491.2 108.8,492.3 123.8,499.8 133.8,503.7 146.2,512.9 168.8,524.9 186.2,536.3 221.2,548.2 236.2,551.7 256.2,552.5 291.3,550.8 296.2,549.6 308.8,543.9 323.8,544.5 331.2,543.2 341.2,539.1 351.2,532.7 356.2,531.3 371.2,530.6 386.2,531.7 393.8,534.9 413.8,549.2 420.3,560.8 424.7,578.2 427.8,585.8 431.2,589.1 436.2,589.2 446.2,580.6 456.7,573.2 466.2,561.8 476.9,553.2 488.8,537.4 491.4,530.8 492.4,518.2 492,505.8 488.9,490.8 489.6,485.8 497.5,473.2 502.9,460.8 506.2,457.1 513.8,451.6 516.2,448.4 526.2,427.1 531.2,419.1 541.5,408.2 546.2,404.5 566.2,398.1 573.8,394 594.9,373.2 603.5,363.2 607.5,360.8 611.2,360.3 613.8,361.2 626,373.2 631.2,375.9 641.2,376.9 648.8,375.2 653.8,370.1 666.2,343 678.9,323.2 702.8,300.8 708.8,298 727.2,293.2 736.2,289.7 756.2,274 764.3,265.8 768.7,263.2 798.8,254.4 816.2,250.4 836.2,234 846.2,224.5 853.8,221.8 868.8,218.7 875.4,220.8 878.7,225.8 879.9,233.2 879.7,243.2 878.8,248.2 876.2,252.8 866.2,259.1 862.3,263.2 860.3,270.8 860.5,283.2 862.1,288.2 866.1,293.2 871.2,296.6 877.8,303.2 883.7,303.2 891.2,297.3 908.8,293.9 913.8,291.2 916.5,285.8 916.1,265.8 918.7,258.5 923.8,254.3 936.2,249.2 946.2,241.6 948.8,241.1 951.2,241.9 958.8,250.9 966.2,255.4 976.2,255.8 988.8,252.8 994.5,250.8 1006.2,243.9 1018.7,238.2 1027.6,228.2 1041.8,220.8 1049.6,210.8Z"/>
<path fill="#ff4400" d="M1007.9,258.2 1021.2,257.1 1098.8,257 1098.8,363.5 1058.8,363.6 1048.8,365.1 1036.2,374 1023.2,380.8 1020.5,383.2 1018.1,388.2 1018.4,390.8 1020,393.2 1023.8,395.4 1028.8,396.5 1098.8,397 1098.8,755.8 61.2,755.8 61.2,497.1 96.2,496.9 111.2,498.7 131.2,507.6 143.1,515.8 186.2,539 218.8,550.2 236.2,553.6 256.2,554.1 293.8,553.1 301.2,551.7 311.2,548.1 321.2,548.7 326.2,548 343.8,542.2 353.8,537.7 378.8,537.1 388.8,538.2 398,543.2 408.8,552.9 413.8,558.7 416.8,565.8 421.2,590.5 423.8,595.5 426.2,598.2 436.2,603.8 443.8,610.8 448.8,614 451.2,614.3 455,613.2 457.7,610.8 463.8,601.5 466.2,599.8 471.2,599.1 476.3,601.5 483.8,612.4 486.2,613.9 491.2,613.9 496.2,610.6 503.4,600.8 511.2,593.5 513.8,588.7 514.7,583.2 514.8,573.2 513.8,565.3 511.2,560.5 503.8,553.6 501.3,550.1 499.1,543.2 498.1,535.8 497.5,508.2 495.5,488.2 496.9,483.2 506.2,463.6 518.6,453.2 526.2,439.2 528.8,436.4 533.8,433.9 538.8,433.8 556.2,436.7 616.2,437 626.2,436.4 633.8,433.2 643.5,420.8 653.8,413.3 657.7,408.2 659.4,403.2 660.9,385.8 666.2,365.8 668.8,361.3 678.4,350.8 686.2,327.6 689.5,323.2 708.7,305.8 716.2,303.5 738.8,300.3 772.2,290.8 776.6,288.2 783.8,280.7 796.2,273.4 803.8,265.7 808.8,263.7 813.8,264.1 816.8,265.8 818.5,268.2 820.9,283.2 823.9,288.2 828.8,291 848.8,297 854.4,300.8 858.9,305.8 859.8,315.8 858.4,323.2 863.2,333.2 874.5,348.2 881.2,360.8 891.2,364.4 898.8,364.4 902.2,363.2 902.8,360.8 901.4,350.7 878.4,315.8 877.2,313.2 878,310.8 892.5,303.2 911.2,298.6 916.9,295.8 919.2,293.2 921.5,288.2 925.5,268.2 927,265.8 931.2,262.6 948.7,258.8 963.8,262.7 976.2,263.3 993.8,261.5ZM608.7,380.8 611.2,380.7 615.1,383.2 616.7,385.8 616.7,390.8 614.8,393.2 611.2,395.3 606.2,396.3 601.7,395.8 601.2,390.8 602.9,385.8 606.2,381.9ZM593.5,398.2 598.8,398.7 599.3,403.2 598.4,408.2 596.2,412 593.8,414 588.8,414.7 586.2,413.9 583.4,410.8 583.3,405.8 587.3,400.8Z"/>
<path fill="#fc1408" d="M935.3,278.2 941.2,277.2 951.2,277.1 971.2,278.4 976.2,281.2 984.3,293.2 988.8,295.7 993.8,296.6 1098.8,296.9 1098.8,357 1056.2,357 1048.8,357.7 1043.8,359.3 1031.2,368.9 1006.2,383.3 1001.7,388.2 1000.2,395.8 1000.4,400.7 1002.1,405.8 1004.2,408.2 1008.8,410.1 1013.8,409.8 1026.2,404.5 1043.8,401.5 1098.8,400.9 1098.8,755.8 61.2,755.8 61.3,503.9 88.8,503.8 98.8,502.4 111.2,504.9 158.8,527.3 168.4,533.2 186.2,542.2 218.8,553 226.2,553.8 231.2,555.5 298.8,555.6 313.8,552.8 323.8,552.7 336.2,547.5 338.8,547.2 343.8,549.1 351.2,545.3 356.2,544.4 381.2,544.3 388.8,545.3 394,548.2 408.8,563.2 411.7,570.8 414.8,595.8 419.9,608.2 423.8,613.6 436.2,623.1 443.8,633.1 448.8,635.8 456.2,636.9 483.8,636.9 491.3,635.9 496.2,633.1 505.7,620.8 516.8,610.8 519.9,605.8 523.3,595.8 524.9,578.2 523.9,560.8 521.9,553.2 519.4,548.2 516.2,544.9 507.2,538.2 503.8,532.1 502.7,525.8 501,490.8 502.3,483.2 509.6,468.2 521.2,457.8 531.2,445.8 536.2,445.4 548.8,451.2 573.8,453.5 578.4,455.8 581.1,458.2 587.1,470.8 591.2,475 596.2,476.5 601.2,476.8 611.2,474.7 616.3,470.8 623.8,460.5 633.8,453.6 645.9,440.8 656.2,433.5 663.8,423.1 676.2,413.1 679.5,405.8 681.4,385.7 683.8,381.6 686.2,379.6 691.2,377.8 698.8,377.2 700.1,378.2 700.8,385.8 702.6,390.8 706.2,394.5 711.2,396.2 726.2,396.3 731.2,394.5 735.6,390.8 736.9,388.2 736.8,383.2 735.1,380.8 731.2,378.4 723.8,377.2 701.2,377.2 700.1,375.8 700.5,333.2 701.8,328.2 706.2,322.1 713.8,318 731.2,316.2 751.2,311.4 766.7,303.2 791.2,297.5 801.2,297 811.2,297.9 831.2,302.6 838.8,306.8 843.8,312 845.8,315.8 849.2,323.2 851.2,332.3 856.2,341.3 868.8,350.3 871.7,355.8 872.3,360.8 870.3,370.8 870.5,385.8 871.8,390.8 876.8,395.8 881.2,397.9 886.2,397.8 896.2,394.6 903.4,390.8 908.8,383.5 911.8,375.8 911.7,368.2 905.8,350.8 891.3,323.2 890.8,318.2 892.2,315.8 902.1,308.2 916.2,303.6 921.5,300.7 925.8,295.8 931.2,281.3ZM346.2,614.3 342.8,620.8 342.1,628.2 343.5,638.3 346.2,639.7 350.2,633.2 351.9,625.8 350,615.8 348.8,613.9ZM371.2,560 366.2,563 358.2,575.8 356.9,580.8 358.8,583.1 361.2,582.6 367,578.2 375.5,568.2 375.3,563.2 373.8,561ZM786.2,597 783,600.8 780.5,608.2 781,618.2 781.2,619.2 783.8,619.8 786.5,615.8 789.5,605.8 788.8,598.9Z"/>
<path fill="#dc0000" d="M768.2,318.2 781.2,317.1 821.2,317.2 828.8,318.3 833.8,320.8 858.8,350.8 859.8,355.8 860.3,383.2 862.3,390.8 866.2,394.9 873.8,399.2 878.8,401.5 883.8,401.9 888.7,401.3 903.8,395.4 916.2,388.2 919.1,383.2 920,375.8 918.9,365.8 908.8,348.1 902.5,330.8 902.8,325.8 904.1,323.2 906.6,320.8 911.3,318.3 928.8,317 1098.8,317.1 1098.8,349.7 1048.8,350.2 1041.2,351.6 1030.8,355.8 1023.8,359.9 1016.2,367.2 1011.2,370.4 991.2,376.5 983.9,380.8 976.2,392.9 966.2,399.1 962.4,403.2 960.7,408.2 960.2,415.8 960.6,420.8 963,425.8 966.2,427.7 971.2,428.2 977.4,425.8 986.2,419.2 991.2,418.4 1008.8,421.1 1018.8,420.2 1031.2,416.7 1043.8,409 1048.8,407.4 1058.8,406.6 1098.8,406.6 1098.8,755.8 519.9,755.8 520.6,630.8 523.8,623.3 533.8,615.4 537.8,610.8 539.8,603.2 540.7,588.2 542.4,583.2 546.2,579.1 555.5,573.2 557.2,570.8 557.9,565.8 555.5,560.8 543.8,552.9 536.1,540.8 531.2,537.6 513.8,531.3 510.6,528.2 508.6,520.8 507.8,493.2 508.7,485.8 511.2,480.8 524.1,465.8 531.2,460.2 536.2,459.7 548.8,461.5 563.8,462.2 568.9,463.2 573.8,467.6 580.6,488.2 583.8,493 586.2,494.8 591.2,496.4 601.2,496.9 608.7,495.9 613.8,493.4 625.8,480.8 636.5,473.2 646.3,460.8 653.8,457.6 668.8,456.3 673.8,454.6 677.9,450.8 683.8,440.8 693.9,433.2 703.9,420.8 711.2,417.6 726.2,416.8 733.8,414.8 738.4,410.8 746.1,400.8 756.1,393.2 758.9,388.3 759.8,383.2 759.9,358.2 758.8,357 748.7,355.5 743.8,352.4 740.7,345.8 740.4,333.2 742,328.2 746.2,324.2ZM783.8,595.1 780.4,600.8 777.3,610.8 777.7,625.8 778.8,628.7 781.2,630.1 783.7,628.6 789.5,618.2 792.7,605.8 792.1,600.8 788.8,593.5 786.2,593.3ZM748.8,540.3 744.8,543.2 743,548.2 743.8,551.1 746.2,553.3 748.8,553.6 753.8,551 756.5,545.8 756.2,543.2 754.1,540.8ZM766.2,340 763.8,342 761.6,345.8 760.4,353.2 761.2,356.4 768.8,356 773.8,354.2 776.2,351.8 777.7,348.2 776.9,343.2 774.7,340.8 771.2,339.3ZM95.6,508.2 98.8,506.8 119.9,513.2 158.8,530.7 168.8,537.2 183.8,544.6 216.2,555.6 223.8,556.5 231.2,558.7 301.2,558.6 316.2,556.1 326.2,555.6 336.2,551.3 338.8,552.7 341.2,558.8 343.8,560.5 348.8,560.4 351.2,561.3 352.8,563.2 354,568.2 353.8,570.8 351.2,575.7 344.7,580.8 340.9,588.2 339.6,605.8 335.9,625.8 337.8,640.8 346.2,662.9 348.8,664.8 351.2,661.8 352.9,648.2 359.2,628.2 360.4,590.8 361.9,588.2 368.3,583.2 376.2,579.7 381.2,575.8 386.2,564.9 388.8,562.2 391.2,561.9 393.8,563 397.9,568.2 399.5,575.8 400.3,660.8 405.1,688.2 405.4,755.8 61.2,755.8 61.2,517.2 91.2,516.7 93.8,513.6ZM206.3,600.1 203.8,602.3 202.3,605.8 203.1,610.8 205.3,613.2 208.8,614.7 213.8,613.9 216.2,611.7 217.7,608.2 216.9,603.2 214.7,600.8 211.2,599.3ZM444.8,660.8 448.8,659.1 453.8,659.9 457.4,663.2 459.3,668.2 460,755.8 419.8,755.8 419.9,695.8 421.2,685.8 424.2,680.8 436.2,673 442.3,663.2Z"/>
<path fill="#a80000" d="M918.2,400.8 926.3,399 931.2,399 935,400.8 937.8,405.8 937.1,410.8 935.5,413.2 924.3,420.8 921.8,425.8 921.9,430.8 926.2,447.8 928.8,451.5 931.2,452.5 936.2,450.2 943.7,440.8 948.8,438 973.8,436.3 991.2,432.7 1011.2,432.7 1036.2,436.9 1098.8,437 1098.8,755.8 535.2,755.8 535.2,693.2 536.7,678.2 541.8,663.2 546.2,658.5 553.8,653.2 557.8,648.2 559.4,643.2 560.6,628.2 563.8,621.2 575.9,613.2 582.2,603.2 586.2,599.5 591.2,597.8 598.8,597.5 599.7,598.2 602.5,610.8 606.2,614.8 615.5,620.8 617.9,625.8 617.2,630.8 615.5,633.2 606.2,639.3 603.8,642 602.7,645.8 603.1,648.2 604.5,650.8 608.8,654.1 613.8,654.8 621.5,653.2 629.3,650.8 634,645.8 638.9,628.2 640.7,608.2 642.5,603.2 644.6,600.8 648.8,598.4 658.8,596.9 660,595.8 658.8,587.5 657.9,585.8 654.4,583.2 631.2,578.1 621.2,577.2 619.6,578.2 618.4,588.2 615.1,593.2 608.8,596.1 603.8,596.6 600.8,595.8 601,588.2 603.8,581.9 608.8,578.6 618.8,577.3 619.7,575.8 619.1,568.2 617.4,563.2 613.8,559.2 604.2,553.2 601.2,548.2 600.1,540.8 600.3,530.8 601.2,525.7 604.2,520.8 616.2,513.2 623.5,503.2 628.8,498.5 638.8,494.2 653.8,490.7 657.7,488.2 664.1,480.8 668.8,478.3 678.8,477.1 718.8,476.9 720,478.2 720.1,498.2 721.2,505.7 726.1,513.2 736.2,521.6 737.5,525.8 736,530.8 723.8,542.9 716.2,553.5 703.8,563.1 696.2,573 691.2,575.7 681.2,577 679.8,578.2 678.4,588.2 675.2,593.2 671.2,595.5 661.2,596.9 660,598.2 660.8,605.8 662.5,610.8 664.6,613.2 668.8,615.6 686.2,616.9 701.2,616.8 708.8,615.8 713.8,613.2 723.8,600.5 736.2,590.9 743.4,580.8 751.7,573.2 759.4,560.8 773.1,548.2 780.4,525.8 783.5,520.8 791,513.2 792.3,508.2 791.5,505.8 789.2,503.2 781.2,498.3 778.8,495.8 773.6,483.2 771.2,479.9 768.8,478.3 761.2,477 721.2,476.9 720,475.8 720.4,458.2 723.8,457.1 763.8,456.9 768.8,456.4 773.8,454.6 776.2,452.6 778.8,448.2 781.3,425.8 784.4,420.8 788.8,418.3 798.8,417.1 868.8,416.5 893.8,411.1 906.2,403.9ZM668.8,563 666.8,568.2 667.8,573.2 671.2,575.8 678.8,576.2 678.8,570.8 676.2,564.7 673.8,562.5 671.2,561.9ZM786.2,590.1 782.1,593.2 777.1,600.8 768.3,623.2 769.1,628.2 773.8,633.6 776,638.2 778.8,640.5 781.2,639.7 786.6,633.2 798.1,610.8 797.4,603.2 792.7,593.2 791,590.8 788.8,589.7ZM707.9,440.8 711.2,439.9 713.8,440.4 717.1,443.2 719.4,450.8 718.8,456.2 708.8,455.4 703.8,451.5 702.9,448.2 703.3,445.8ZM544.8,480.8 548.8,479.2 553.8,479.9 556.2,481.8 558.6,485.8 559.8,500.8 559.3,505.8 557.6,510.8 553.8,514.6 546.2,516.7 533.8,516.6 526.2,514.4 523,510.8 522.3,508.2 522.9,503.2 526.2,499.3 536.2,493 542.3,483.2ZM118,568.2 121.2,567.1 126.2,567.1 133.8,570.6 136.7,575.8 136.7,578.2 133.9,583.2 126.2,586.9 121.2,586.9 116.2,584.4 113.3,580.8 112.6,575.8 113.8,572.5ZM104.1,588.2 106.2,587.4 108.8,588.5 109.6,590.8 108.8,593.7 106.2,595.1 103.8,593.7 102.9,590.8ZM303,593.2 311.2,593 316.2,594.4 318.8,596 322.5,600.8 324.4,608.2 324.8,640.8 326.2,650 337.8,670.8 341.2,675.1 346.2,678.7 351.2,679.7 353.8,679.1 356.2,677.4 358.5,673.2 361.2,643.4 368.8,624.1 371.2,621.5 373.8,621 376.2,622 378.8,625 383.8,640.8 386,670.8 393,683.2 394.4,688.2 394.9,755.8 194.9,755.8 195.3,705.8 197.8,693.2 201.8,683.2 203.8,680.7 208.8,677.5 228.8,671.1 232.5,668.2 234.1,665.8 241.9,643.2 246.2,638.9 253.8,634.9 257.7,630.8 259.7,623.2 260.6,608.2 262.4,603.2 264.4,600.8 271.2,597.6 288.8,596.4ZM165,640.8 168.8,639.7 171.2,640.2 189.5,648.2 194.3,655.8 195,660.8 194.3,665.8 189.2,670.8 186.2,670.3 184.2,663.2 182.4,660.8 176.8,655.8 173.7,655.4 168.8,657.7 146.2,673.2 144.3,683.2 143,685.8 141.2,688.3 138.8,689.2 136.2,688.7 130.8,683.2 128.2,675.8 127.5,663.2 128.4,658.2 131.2,656.4 133.8,657.6 136.2,660.5 138.8,661 149.9,650.8 155.6,643.2ZM125.8,698.2 128.8,697.9 131.2,699.6 134.2,703.2 134.9,705.8 134.2,715.8 131.2,719.3 128.8,720.3 123.7,718.2 120.8,710.8 123.3,700.8ZM152.9,718.2 156.2,717.9 158.8,719.1 160.9,720.8 160.9,723.2 156.2,726.1 153.8,726.1 151.2,724.9 149.1,723.2 149.1,720.8Z"/>
<path fill="#800000" d="M883.7,425.8 891.2,423.5 896.2,425 911.2,440.4 914.1,445.8 920.6,468.2 923.8,472.7 928.8,475 933.8,474.4 936.2,472.8 946.1,460.8 966,445.8 980,443.2 993.8,442.2 1006.2,442.3 1013.8,444.1 1028.8,457 1031.2,462.2 1032.1,470.8 1032.4,510.8 1033,513.2 1036.2,517.4 1043.8,521.8 1053.8,522.5 1058.8,521.8 1063.8,517.5 1066.2,517 1098.8,517 1098.8,755.8 620,755.8 619.9,680.8 620.9,670.8 623.8,665.8 636.2,659.8 641.2,655.8 647.1,643.2 651.2,638.9 658.8,637.2 701.2,637 711.6,635.8 716.2,633.1 726.1,620.8 736.5,613.2 746.2,601.1 751.2,598.6 756.2,597.9 758.8,598.7 759.3,603.2 756,620.8 756,628.2 757.4,633.2 761.2,638 778.8,646.1 783.8,643.8 798.6,630.8 804.6,618.2 806.2,610.8 805.2,600.8 801.2,594.8 793.7,587.7 788.8,585.4 786.2,586 776.2,592.7 771.2,594.9 763.8,596.2 761.2,595.5 760.6,593.2 761.7,583.2 766.2,567.9 768.8,564.7 778.8,558.3 781.2,555.8 788.5,540.8 798.3,530.8 802.9,518.2 804.2,508.2 802.6,500.8 798.8,495.7 790.8,490.8 788.4,488.2 787.6,483.2 788.6,480.8 791.3,478.6 796.2,477.4 826.2,476.7 833.8,474.7 837.9,470.8 844.1,460.8 856.2,452.9 864.1,440.8 876.3,433.4ZM644.3,505.7 651.2,503.6 656.2,505.4 658.8,509 659.8,515.8 659.9,538.2 659,548.2 653.8,565.8 651.2,568.6 648.8,569.3 644.8,568.2 642.3,565.8 640.3,558.2 640.3,515.8 641.2,510.2ZM688.8,518.2 698.8,517.1 708.6,518.2 713.8,521.3 716.5,525.8 716.2,528.9 713.8,533 703.8,540.5 696.2,550.5 691.2,553.5 688.1,553.2 683.8,550.2 681.2,545.8 680.3,540.8 680.3,530.8 681.2,525.8 684.4,520.8ZM305,605.8 308.8,604.9 311.2,605.8 314,610.8 315.1,648.2 317,658.2 320.4,668.2 323.8,673.6 335.1,683.2 339.2,690.8 340,700.8 340,755.8 205.1,755.8 205.3,710.8 206.2,705.3 208.5,700.8 223.4,685.8 238.8,678.2 242.8,673.2 247.1,663.2 251.2,659 258.8,657.2 286.2,656.7 291.2,655.7 295.7,653.2 298.8,648.5 299.8,643.2 300.6,613.2 302.3,608.2ZM370.6,648.2 371.2,647.5 373,650.8 373.8,655.8 373.4,663.2 371.2,668.4 369.6,665.8 368.6,660.8 368.8,652.8ZM571.1,658.2 578.8,657.1 586.2,657.6 591.2,659.3 596.1,663.2 598.8,668.2 599.8,673.2 599.8,683.2 598.8,688.2 595.8,693.2 584.2,700.8 581.2,705.7 580.1,715.8 580,755.8 545.1,755.8 545.1,695.8 546.1,685.8 548.8,680.5 556.6,673.2 563.8,663.2Z"/>
<path d="M260.2,38.2 260.2,75.8 259,85.8 256.7,90.8 252.5,95.8 243.6,100.8 246.7,105.8 246.8,108.2 243.8,112.6 241.2,114 236.2,114.5 231.2,112.7 228.8,110.3 228.5,113.2 230.9,123.2 238.8,128.2 261.2,138.5 288.8,146.8 296.2,152.5 313,170.8 318.7,173.3 320,170.8 319.9,165.8 312.5,148.2 311.7,143.2 315.5,133.2 319.8,128.2 320.8,125.8 317.9,120.8 313.8,116.2 303.9,110.8 302.2,108.2 298.6,98.2 301.2,87.6 293.7,83.2 280.7,78.2 279.9,73.2 279.9,38.2M395.4,38.2 394.8,88.2 393.5,93.2 387.8,103.2 386.9,108.2 388.4,113.2 394.3,123.2 403.3,155.8 404.7,158.2 408.8,161.4 416.2,162.3 421.2,161.8 428.8,157.9 446.3,155.8 451.2,152.4 457.2,140.8 461.5,135.8 468.8,132.7 488.2,130.8 491.3,128.9 493.5,125.8 494.7,120.8 494.9,113.2 491.8,83.2 491.5,38.2M303.8,374.7 301.5,375.8 300.6,378.2 302.2,380.8 306.2,381.2 308.7,378.2 307.6,375.8ZM141.2,387.3 139.6,390.8 141.2,393.7 146.2,394.7 148.8,393.3 149.7,390.8 148.8,387.9 146.2,386.2 143.8,386ZM241.6,38.2 241.5,78.2 240.5,88.2 238.7,93.2 236.8,95.8 226.2,101.3 223.1,105.8 226.9,123.2 228.3,125.8 238.8,132.7 257.7,140.8 268.8,148.2 293.8,156 310.2,173.2 316.2,176.3 321.2,177.2 323.8,175.8 323.4,165.8 318.4,153.2 316.5,145.8 317.7,140.8 324.3,128.2 324.8,125.8 315.3,110.8 306.6,80.8 306.2,38.2M381.5,38.2 381.3,78.2 380.6,80.8 378.8,82.7 373.3,85.8 370.5,90.8 369.4,123.2 371.2,127.1 378.8,132.4 384.4,138.2 391.2,149.2 395.4,163.2 397.3,165.8 403.8,170.5 408.8,172.8 421.2,173.6 433.8,172.9 448.8,173.4 456.2,172.6 458.8,171.4 460.6,168.2 462.5,158.2 468.8,149.2 473.8,146.4 488.8,144.3 493.8,142.5 501.2,136.6 506.2,130.1 513.7,125.8 512.7,108.2 502.5,83.2 499.3,73.2 499.2,38.2M233.6,105.8 236.2,103.6 238.8,103.5 242.4,105.8 242.9,108.2 240.1,110.8 236.2,111.1 233.8,109.9 232.7,108.2ZM248.8,367.8 244.8,370.8 244.3,373.2 246.2,376.2 251.2,376.9 254.8,373.2 254.7,370.8 252.3,368.2ZM301.2,373 298.3,375.8 297.9,378.2 298.8,380.8 303.8,383.8 308.8,382.4 311.3,378.3 310.7,375.8 306.2,372.5ZM138.8,385.5 136.9,388.2 136.5,390.8 137.3,393.2 141.2,396.8 143.8,397.4 148.8,396.5 152.4,393.2 152.8,388.2 148.8,384.5 143.8,383.5ZM225.7,38.2 225.2,83.2 218.6,105.8 221.8,123.2 225.2,130.8 232.3,135.8 251.2,143.7 263.8,151.9 292.5,160.8 296.2,163.6 303.8,174.2 308.8,178.5 318.8,182.2 326.2,183.2 328.8,183.2 331.2,181.7 332.8,178.2 333.3,173.2 331.9,168.2 323.8,155.3 322.4,150.8 322.3,145.8 323.8,140.8 330.4,128.2 330.2,125.8 321.2,111.8 319.8,103.2 320.7,98.2 323.1,93.2 330.3,85.8 333,80.8 333.8,38.3M365.6,38.2 365.5,80.8 362.7,98.2 360.1,125.8 363.8,132.8 373.1,140.8 376.2,144.7 381.4,158.2 386.2,167.3 394.9,175.8 401.2,179.1 406.2,180.5 416.2,181.3 453.8,181.5 466.2,183.3 468.8,183.3 471.9,180.8 475.7,168.2 479.5,163.2 486.2,159.8 500.9,155.8 508.7,151.7 513.8,147.5 523.8,136.5 534.5,128.2 533.7,125.8 528.8,121.2 524.7,115.7 518.9,103.3 511.2,93.5 507.1,83.2 505.9,75.8 505.9,38.2M246.2,365.2 242.3,368.2 241,370.8 241.7,375.8 246.2,379.7 251.2,380.1 253.8,379.1 257.2,375.8 258.2,373.2 257.5,368.2 253.8,365.1 248.8,364.5ZM301.3,370.7 297.2,373.2 295.7,375.8 296.1,380.8 301.2,385.2 306.2,385.7 308.8,385.1 313.2,380.8 313.4,375.8 308.8,371.1 306.2,370.2ZM138.8,382.7 134.8,385.8 133.2,390.8 135.4,395.8 138.8,398.6 143.8,400 148.8,399.5 153.8,397.3 158.2,393.2 159.3,390.8 158.7,388.2 152.3,383.2 146.2,381.4ZM101.2,444.4 99.7,445.8 99.7,448.2 101.2,449.5 103.8,449.7 105.7,448.2 105.7,445.8 103.8,444.2ZM200,38.2 199.4,85.8 196.3,93.2 189,100.8 187.8,105.8 188.6,108.2 191.2,110.7 203.8,115.2 208.8,118.7 216.9,133.2 221.2,138.2 226.2,141.9 236.2,146.3 251.2,151.3 263.8,156.7 278.2,160.8 288.8,165.6 293.8,170.2 308.8,190.1 313.8,193.7 326.2,199.7 336.2,200.6 358.8,196.6 360.2,195.8 361,188.2 362.9,183.2 366.2,180.3 371.2,180.3 376.2,184.9 377.1,188.2 376.7,190.8 374.9,193.2 371.2,195.6 361.8,198.2 363.3,203.2 366,205.8 373.6,208.2 388.8,211.3 398.8,211.9 408.8,211.4 413.8,209.9 426.2,199.2 433.8,197.4 448.8,197.6 463.8,200.7 471.2,201.1 496.2,197.1 586.2,196.6 611.2,191 616.1,188.2 618,185.8 619.8,178.2 618.7,165.8 615.8,160.8 604.5,153.2 602.1,148.2 602.8,143.2 604.5,140.8 613.8,134.8 617.1,130.8 617.8,125.8 616.2,121.9 611.2,118.4 606.2,117.4 568.8,116 548.8,111.1 543.4,108.2 536.2,100.2 526.2,92.1 521.8,85.8 520.3,75.8 520.3,38.2M980.3,38.2 980.7,80.8 982.6,85.8 986.2,88.3 988.8,87.8 990.6,85.8 991.9,80.8 992.2,38.2M332.3,98.2 341.2,97.3 346.2,98 348.8,99.4 351.2,103.2 351.7,105.8 351,110.8 348.8,114.2 343.8,116.5 338.8,116.7 333.8,115.9 328.8,112.9 326.2,108.2 326.2,104.4 328.8,100.1ZM343,135.8 346.2,134.6 351.2,135.1 356.2,138.2 360.6,143.2 362.6,150.8 361.2,154.9 358.3,158.2 353.8,160.2 346.2,159.6 338.2,155.8 332.2,150.8 331.2,145.8 332.4,143.2 336.2,139.6ZM251.2,358.1 243.8,359.8 230.7,365.7 226.9,368.2 225.3,370.8 225.5,373.2 227.5,375.8 242.7,388.2 248.8,390.6 253.8,390 258.8,387.2 273.8,373.2 275.8,368.2 273.8,364.6 268.8,361.9 258.8,358.8ZM301.2,367.8 296.2,370.3 293.8,373.2 292.6,375.8 293.2,380.8 296.2,384.6 301.2,387.7 306.2,388.1 311.2,387.1 314.9,383.2 316.6,378.2 316.3,375.8 311.2,369.5 306.2,367.2ZM61.2,422.1 106.2,421.3 111.2,419.5 116.3,415.9 120.8,410.8 126.2,401.3 128.8,400 141.2,403.9 148.8,404.4 156.2,403.6 163.8,401.2 168.7,398.2 173.2,393.2 173.3,390.8 171.2,388.2 161.8,383.2 151.2,380.2 143.8,379.4 136.2,381.4 123.8,390.2 118.8,392 108.8,392.7 61.3,392.8M306.2,427.7 303.8,428.4 302.3,430.8 303.4,433.2 306.2,434.1 308.4,433.2 309.5,430.8ZM101.2,440.5 96.5,443.2 95.2,445.8 95.4,448.2 98.8,451.8 103.8,452.7 107.8,450.8 109.6,448.2 109.8,445.8 106.2,441.3ZM363.8,485.3 363.8,488.5 366.2,489.6 369.2,488.2 369.6,485.8 368.8,484.7 366.2,483.7ZM159.9,38.2 159.8,120.8 158.8,128.2 155.7,133.2 151.2,135.8 146.2,136.8 136.2,136.9 128.8,135.8 123.8,132.8 115.8,120.8 108.8,117.6 61.2,117M720,38.2 720.7,85.8 723.8,92.2 728.8,94.3 732.6,93.2 735.8,90.8 739.3,83.2 739.9,38.2M780,38.2 780.1,78.2 781.3,88.2 783.8,92.6 786.2,94.7 791.2,96.4 798.8,97 811.3,95.8 816.2,92.6 818.7,88.2 819.9,78.2 820,38.2M939.9,38.2 940,95.8 941.2,105.8 943.9,110.8 948.8,114.7 953.8,116.3 961.2,116.8 971.3,116 991.2,111.6 997.9,108.2 1002.1,103.2 1005.4,95.8 1007,85.8 1007.3,38.2M1040,38.2 1040.3,83.2 1041.3,88.2 1043.8,92.6 1048.8,95.7 1053.8,96.7 1098.8,97M771.2,118.2 766.4,120.8 763.9,123.2 760.6,130.8 760,158.2 761.2,168.2 763.8,172.6 768.8,175.6 778.8,176.7 786.2,175.8 791.2,172.6 793.8,169.3 801.7,153.2 803.9,145.8 802.8,135.8 798.8,124.3 793.8,119.2 783.8,117ZM181.9,135.8 188.7,134 196.2,136.9 201.2,143.3 201,148.2 199.5,150.8 193.8,154.7 188.8,155.8 183.8,155.4 179.6,153.2 176.7,148.2 176.7,143.2 178.8,138.7ZM61.2,156.8 148.8,157.4 156.2,160.5 167.7,170.8 183.8,178.8 193.8,182 206.2,183.2 216.2,182.5 226.2,178.9 231.2,175 238.8,164.3 243.8,161.3 251.2,160.7 258.8,162.8 271,168.2 280.9,178.2 288.8,184 291.8,188.2 297.5,203.2 301.4,210.8 306.2,215.5 323.8,227.4 328.8,228.8 333.8,228.7 348.8,222.4 361.2,220.1 371.2,220.3 378.8,223.4 382.7,228.2 383.6,233.2 380.4,250.8 380.7,263.2 383.8,270.1 388.8,273.5 393.8,272.4 397.6,268.2 399.3,263.2 401.2,245.8 403.8,241.4 406.2,239.4 413.8,237.4 443.8,236.9 451.2,235.8 456.2,233.2 463.7,225.8 468.8,223.9 471.2,223.9 476.3,225.8 483.8,233.6 506.2,249.9 516.2,252 531.2,251.5 536.2,249.9 546.2,240.8 551.2,238.2 568.8,236.5 573.8,234.9 583.4,225.8 591.2,222.3 608.8,218.1 616.2,217.2 683.8,216.6 691.2,214.6 695.6,210.8 697.3,205.8 695.4,200.8 684,193.2 676.2,181.1 666.2,174.9 662.4,170.8 660.2,160.8 660.1,135.8 661.2,125.9 663.8,121.3 675.9,113.2 683.8,101.1 695.8,93.2 698.7,88.4 700,78.2 700.1,38.2M1098.8,157.1 1053.8,157.7 1046.2,161.2 1043.8,164.4 1042.7,168.2 1045,173.2 1051.2,176 1098.8,176.6M131.2,200.7 126.2,202.7 123.6,205.8 123.9,210.8 128.8,214.9 133.8,215.8 141.2,214.5 152,210.8 153.5,208.2 151.3,205.8 145.6,203.2 136.2,200.8ZM168.8,219.4 166.2,221.9 163.6,230.8 161.2,235.7 158.8,238.4 151.7,243.2 149.8,245.8 150.1,248.2 151.2,249.2 156.2,250.4 168.8,250.4 188.8,254.4 211.2,256.6 221.2,255.7 233.6,253.2 238.3,250.8 240.5,248.2 241.3,245.8 240,240.8 236.2,236.7 231.2,233.7 206.2,229.4 192.3,223.2 186.2,221.6 173.8,219ZM383.8,323 361.2,325.8 352.4,328.2 353.5,330.8 373.8,338.5 382.4,345.8 387,348.2 393.8,349.4 411.2,349.8 426.2,353.9 431.2,354.4 452.2,348.2 454.7,345.8 454.6,343.2 452.9,340.8 433.8,325 428.8,324.1 426.2,324.6 423.7,325.8 415.9,333.2 411.2,335.2 408.8,335.2 403.8,333 396.5,325.8 393.8,324.2 388.8,323ZM141.2,457.7 141,463.2 144.1,470.8 151.7,478.2 161.8,490.8 168.8,495.2 178.8,498.9 188.8,506.3 193.8,507.1 196.7,505.8 198.6,503.2 199.7,498.2 200,475.8 198.8,465.8 195.6,460.8 191.2,458.2 183.8,457.1ZM61.2,461.1 111.2,460.9 138.8,456.6 139.7,455.8 139.6,450.8 137.7,443.2 129.1,433.2 128.1,430.8 128.8,426.8 131.2,424.2 138.8,422.4 168.8,421.9 186.2,418.9 191.2,418.8 196.2,421.3 202.1,430.8 206.2,434.7 211.3,436.4 221.2,436.9 228.8,436.4 233.8,434.7 238,430.8 243.8,421.5 248.8,419.2 255.2,420.8 263.8,432.5 266.2,434.1 271.2,434.8 276.2,432.5 283.8,421.5 286.2,419.8 291.2,419.1 295.2,420.8 296.9,423.2 296,430.8 297.9,435.8 303.8,439.5 308.8,439.2 315,435.8 318,430.8 319.6,423.2 320.6,410.8 323.9,403.2 326.4,400.8 331.2,398.1 351.2,395.3 354.3,393.2 355.4,390.8 354.6,388.2 351.2,385.8 338.8,381.8 329.5,375.8 326.2,370.9 322.6,360.8 318.6,355.8 297.3,345.8 288.8,344.2 256.2,344.7 248.6,345.8 234.2,353.2 207.5,363.2 204.4,365.8 197.1,375.8 193.8,377.7 188.8,379 173.8,379.5 153.8,376.7 143.8,376.5 113.8,379.1 61.2,379.3M368.8,470.7 361.2,473 356.1,478.2 354.2,485.8 355.3,490.7 357.5,493.2 363.8,495.3 386.3,495.8 391.2,495.3 396.2,492.4 398.1,488.2 398.1,485.8 396.2,481.1 393.3,478.2 378.8,471.6Z" fill="none" stroke="#fa3c3c" stroke-width="2" stroke-dasharray="6 3"/>
<path d="M61.2,185.5 91.2,185.5 93.8,185.1 100.2,180.8 111.2,178.8 113.8,179.1 115.8,180.8 115.8,183.2 114,188.2 111.5,190.8 103.8,195.8 101.2,196.2 98.8,195.6 93.8,191.3 91.2,190.9 61.2,190.9M156.1,185.8 158.8,184.4 161.2,185.2 162.6,188.2 161.7,190.8 158.8,191.8 156.6,190.8 155.5,188.2ZM61.2,297.2 98.8,296.8 103.8,294.8 121.9,283.2 151.2,273.5 176.2,271.9 183.8,270.1 218.8,270 226.2,268.1 231.2,268 236.2,268.7 241.2,274.5 243.8,276.1 268.8,286.9 291.2,287 298.8,284.6 311.2,282.6 338.8,291.4 366.2,292.6 378.8,294.5 381.1,295.8 379.5,298.2 358.8,307 338.8,310 316.2,310 301.2,312.9 276.2,326.3 251.2,334.2 214.7,353.2 201.2,357.8 183.8,366.2 173.8,369.7 146.2,370.9 123.8,366.9 101.2,361.6 61.2,361.2M226.2,315.5 206.2,321.9 191.2,321.2 187.8,323.2 186.8,325.8 188.8,328.7 193.8,331.2 206.2,329.4 218.8,326.3 226.2,323.7 228.8,321.4 229.6,318.2 228.8,316.3ZM61.2,477 103.8,477.1 113.8,478.7 118.8,481.8 124.8,488.2 128.4,490.8 152.7,500.8 165.4,510.8 176.2,516.5 191.2,527.6 233.8,540.1 248.8,545.9 257.5,545.8 273.8,542.9 306.2,534.9 326.2,534.8 331.2,533.8 336.3,530.8 341.7,523.2 346.2,519 368.7,508.7 373.8,509.5 383.8,515 396.2,519.8 406.2,529.9 411.2,532.6 433.8,541.1 441.2,541.5 448.8,540.4 456.2,536 461.1,530.8 468.8,518.2 472,510.8 473,503.2 472.9,483.2 479.5,460.8 480.2,418.2 481.2,410 483.9,405.8 496.2,399.8 501.1,395.8 506.9,383.2 516,373.2 518.1,368.2 517.4,363.2 508.5,353.2 501.2,338.2 498.8,335.7 488.8,329.3 486.1,325.8 481.8,308.2 482.9,303.2 486.2,299.9 488.8,299.1 493.8,299.8 497.8,303.2 503.8,312.5 506.2,314.2 511.2,314.9 516.2,312.5 522,303.2 526.2,299.4 531.2,297.7 551.2,296 556.2,293.6 563.8,287.4 568.8,285.2 578.8,284.3 591.2,285 605.1,290.8 611.2,291.9 648.8,291.8 656.2,289.9 666.2,280.7 671.2,278.2 691.2,276 711.2,271.1 718.8,266.6 736.2,249.5 739.2,243.2 740.9,230.8 743.8,225.8 758.8,218.2 767.3,208.2 771.2,206.6 773.8,206.8 777.2,208.2 786.2,215 791.2,216.4 801.2,216.8 808.8,215.3 813.8,212 818.3,205.8 821.2,188.2 823.8,183.4 826.2,180.9 833.8,177.7 848.7,176.5 853.8,174.9 856.4,173.2 867.8,160.8 871.2,158.7 876.2,157.5 883.8,157.3 891.2,159.1 896.2,162.7 903.8,171.1 906.8,173.2 911.2,174.5 916.2,172.9 923.4,165.8 928.8,163 951.2,157.7 963.8,157.3 971.2,158.3 976.2,161.2 983.8,173.2 996.2,183.3 999.4,190.8 1001.4,205.8 1003.8,208.8 1008.8,210.9 1016.2,210.6 1027.8,208.2 1041.2,198.6 1048.8,196.1 1098.8,195.5M99,313.2 103.8,312.1 106.9,313.2 109.2,315.8 109.7,318.2 108.9,320.8 103.8,324 101.2,324.4 98.8,323.4 97.5,318.2ZM256.3,318.2 261.2,316.4 262.3,318.2 261.2,320.8 256.2,322.6 255.2,320.8ZM61.2,337.2 91.2,337.1 103.8,335.2 126.2,335.6 136.2,339.1 147.3,348.2 158.8,351.3 166.2,351.6 173.8,353.9 181.2,354.8 183.9,355.8 184.4,358.2 168.8,365.4 161.2,366.7 151.2,366.6 138.8,364 118.8,357.3 93.8,351.8 61.2,351.6M61.2,480.7 101.2,480.8 111.2,482.2 116.2,485.3 125.4,493.2 143.9,500.8 162.2,513.2 173.8,519.1 188.1,530.8 216.2,538.7 241.9,548.2 251.2,549.1 267.2,548.2 281.9,545.8 306.2,537.9 331.2,537.1 338.4,533.2 348.8,522.4 366.2,516.1 371.2,515.5 393.8,523.3 403.9,533.2 421.2,542 432,553.2 436.2,554.3 446.2,552.4 453.8,548.5 471.8,530.8 475.1,525.8 479.2,510.8 478.3,488.2 479.8,480.8 482.6,475.8 488.9,468.2 497.3,448.2 501.2,442.1 508.8,433.6 511.2,429 515.5,405.8 518.8,398.5 523.8,394.2 535.8,388.2 546.2,378.6 568.8,370.9 572.2,368.2 574.9,363.2 581.7,343.2 586.2,338.5 593.8,333.3 597.8,328.2 599.4,323.2 601.4,308.2 603,305.8 606.2,303.6 616.2,302.1 646.2,302.2 653.8,303.3 663.8,309.1 668.8,309.3 671.2,308.3 678.7,298.2 683.8,294.2 693.8,289.7 703.8,283.8 718.8,277.5 731,270.8 741.6,258.2 756.1,248.2 766.2,238.6 773.8,235.6 783.8,233.1 803.8,231.9 809.3,230.8 813.8,227.7 823.8,216.4 836.1,208.2 846.2,198.6 873.8,190 886.2,179.9 888.8,179.5 893.8,181 902.4,188.2 907,190.8 928.8,196 966.2,197.3 973.8,199.4 976.2,201.4 978.7,205.8 981.5,225.8 983.8,228.6 988.8,230.2 993.8,229.2 1006.2,222.1 1031.2,213.4 1035,210.8 1041.4,203.2 1048.8,199.5 1058.8,198.6 1098.8,198.6M1098.8,372.6 1053.8,373.1 1043.8,376.9 1034.1,383.2 1032,385.8 1032.3,388.2 1036.2,390.5 1046.2,392.5 1098.8,393M61.2,491.1 98.8,491.2 108.8,492.3 123.8,499.8 133.8,503.7 146.2,512.9 168.8,524.9 186.2,536.3 221.2,548.2 236.2,551.7 256.2,552.5 291.3,550.8 296.2,549.6 308.8,543.9 323.8,544.5 331.2,543.2 341.2,539.1 351.2,532.7 356.2,531.3 371.2,530.6 386.2,531.7 393.8,534.9 413.8,549.2 420.3,560.8 424.7,578.2 427.8,585.8 431.2,589.1 436.2,589.2 446.2,580.6 456.7,573.2 466.2,561.8 476.9,553.2 488.8,537.4 491.4,530.8 492.4,518.2 492,505.8 488.9,490.8 489.6,485.8 497.5,473.2 502.9,460.8 506.2,457.1 513.8,451.6 516.2,448.4 526.2,427.1 531.2,419.1 541.5,408.2 546.2,404.5 566.2,398.1 573.8,394 594.9,373.2 603.5,363.2 607.5,360.8 611.2,360.3 613.8,361.2 626,373.2 631.2,375.9 641.2,376.9 648.8,375.2 653.8,370.1 666.2,343 678.9,323.2 683.8,317.9 703.8,300.2 708.8,298 728.8,292.8 736.2,289.7 756.2,274 764.3,265.8 768.7,263.2 798.8,254.4 816.2,250.4 836.2,234 846.2,224.5 853.8,221.8 868.8,218.7 875.4,220.8 878.7,225.8 879.9,233.2 879.7,243.2 878.8,248.2 876.2,252.8 866.2,259.1 862.3,263.2 860.3,270.8 860.5,283.2 862.1,288.2 866.1,293.2 871.2,296.6 877.8,303.2 883.7,303.2 891.2,297.3 908.8,293.9 913.8,291.2 916.5,285.8 916.1,265.8 918.7,258.5 923.8,254.3 936.2,249.2 946.2,241.6 948.8,241.1 951.2,241.9 958.6,250.8 963.8,254.5 971.2,256.2 978.8,255.4 994.5,250.8 1006.2,243.9 1018.7,238.2 1027.6,228.2 1041.8,220.8 1049.6,210.8 1053.5,208.2 1061.2,207.4 1098.8,207.4M1098.8,363.5 1058.8,363.6 1048.8,365.1 1036.2,374 1023.2,380.8 1020.5,383.2 1018.1,388.2 1018.4,390.8 1020,393.2 1023.8,395.4 1028.8,396.5 1098.8,397M608.7,380.8 611.2,380.7 615.1,383.2 616.7,385.8 616.7,390.8 614.8,393.2 611.2,395.3 606.2,396.3 601.7,395.8 601.2,390.8 602.9,385.8 606.2,381.9ZM593.5,398.2 598.8,398.7 599.3,403.2 598.4,408.2 596.2,412 593.8,414 588.8,414.7 586.2,413.9 583.4,410.8 583.3,405.8 587.3,400.8ZM61.2,497.1 96.2,496.9 111.2,498.7 131.2,507.6 143.1,515.8 186.2,539 218.8,550.2 236.2,553.6 256.2,554.1 293.8,553.1 301.2,551.7 311.2,548.1 321.2,548.7 326.2,548 343.8,542.2 353.8,537.7 378.8,537.1 388.8,538.2 398,543.2 408.8,552.9 413.8,558.7 416.8,565.8 421.2,590.5 423.8,595.5 426.2,598.2 436.2,603.8 443.8,610.8 448.8,614 451.2,614.3 455,613.2 457.7,610.8 463.8,601.5 466.2,599.8 471.2,599.1 476.3,601.5 483.8,612.4 486.2,613.9 491.2,613.9 496.2,610.6 503.4,600.8 511.2,593.5 513.8,588.7 514.7,583.2 514.8,573.2 513.8,565.3 511.2,560.5 503.8,553.6 501.3,550.1 499.1,543.2 498.1,535.8 497.5,508.2 495.5,488.2 496.9,483.2 506.2,463.6 518.6,453.2 526.2,439.2 528.8,436.4 533.8,433.9 538.8,433.8 556.2,436.7 616.2,437 626.2,436.4 633.8,433.2 643.5,420.8 653.8,413.3 657.7,408.2 659.4,403.2 660.9,385.8 666.2,365.8 668.8,361.3 678.4,350.8 686.2,327.6 689.5,323.2 708.7,305.8 716.2,303.5 738.8,300.3 772.2,290.8 776.6,288.2 783.8,280.7 796.2,273.4 803.8,265.7 808.8,263.7 813.8,264.1 816.8,265.8 818.5,268.2 820.9,283.2 823.9,288.2 828.8,291 848.8,297 854.4,300.8 858.9,305.8 859.8,315.8 858.4,323.2 863.2,333.2 874.5,348.2 881.2,360.8 891.2,364.4 898.8,364.4 902.2,363.2 902.8,360.8 901.4,350.7 877.2,313.2 878,310.8 892.5,303.2 911.2,298.6 916.9,295.8 919.2,293.2 921.5,288.2 925.5,268.2 930,263.2 938.8,260.5 948.7,258.8 963.8,262.7 973.8,263.5 993.8,261.5 1016.2,257.2 1098.8,257M766.2,340 763.8,342 761.6,345.8 760.4,353.2 761.2,356.4 768.8,356 773.8,354.2 776.2,351.8 777.7,348.2 776.9,343.2 774.7,340.8 771.2,339.3ZM1098.8,349.7 1048.8,350.2 1041.2,351.6 1030.8,355.8 1023.8,359.9 1016.2,367.2 1011.2,370.4 991.2,376.5 983.9,380.8 976.2,392.9 966.2,399.1 962.4,403.2 960.7,408.2 960.2,415.8 960.6,420.8 963,425.8 966.2,427.7 971.2,428.2 977.4,425.8 986.2,419.2 991.2,418.4 1008.8,421.1 1018.8,420.2 1031.2,416.7 1043.8,409 1048.8,407.4 1058.8,406.6 1098.8,406.6M61.2,517.2 91.2,516.7 93.8,513.6 96.2,507.6 98.8,506.8 105.5,508.2 131.8,518.2 158.8,530.7 168.8,537.2 183.8,544.6 216.2,555.6 223.8,556.5 231.2,558.7 301.2,558.6 316.2,556.1 326.2,555.6 336.2,551.3 338.8,552.7 341.2,558.8 343.8,560.5 348.8,560.4 351.2,561.3 353.8,565.8 353.8,570.8 352.7,573.2 351.2,575.7 343.8,581.9 340.9,588.2 339.6,605.8 335.9,625.8 337.8,640.8 346.2,662.9 348.8,664.8 351.2,661.8 352.9,648.2 359.2,628.2 360.4,590.8 361.9,588.2 368.3,583.2 376.2,579.7 381.2,575.8 386.2,564.9 388.8,562.2 391.2,561.9 393.8,563 397.9,568.2 399.5,575.8 400.3,660.8 405.1,688.2 405.4,755.8M748.8,540.3 744.8,543.2 743,548.2 743.8,551.1 746.2,553.3 748.8,553.6 753.8,551 756.5,545.8 756.2,543.2 754.1,540.8ZM783.8,595.1 780.4,600.8 777.3,610.8 777.7,625.8 778.8,628.7 781.2,630.1 783.7,628.6 789.5,618.2 792.7,605.8 792.1,600.8 788.8,593.5 786.2,593.3ZM206.3,600.1 203.8,602.3 202.3,605.8 203.1,610.8 205.3,613.2 208.8,614.7 213.8,613.9 216.2,611.7 217.7,608.2 216.9,603.2 214.7,600.8 211.2,599.3ZM419.8,755.8 419.9,695.8 421.2,685.8 424.2,680.8 436.2,673 443.8,661.5 448.8,659.1 453.8,659.9 456.2,661.7 458.6,665.8 459.6,670.8 460,755.8M519.9,755.8 520.6,630.8 523.8,623.3 533.8,615.4 537.8,610.8 539.8,603.2 540.7,588.2 542.4,583.2 546.2,579.1 555.5,573.2 557.9,568.2 557.2,563.2 555.5,560.8 543.8,552.9 536.1,540.8 531.2,537.6 513.8,531.3 511.2,529.2 509.5,525.8 508.4,518.2 507.8,495.8 508.7,485.8 513.8,477.7 524.1,465.8 528.8,461.6 531.2,460.2 536.2,459.7 568.8,463.2 573.8,467.6 580.6,488.2 583.8,493 586.2,494.8 591.2,496.4 601.2,496.9 608.7,495.9 613.8,493.4 625.8,480.8 636.5,473.2 646.3,460.8 653.8,457.6 668.8,456.3 673.8,454.6 677.9,450.8 683.8,440.8 693.9,433.2 703.9,420.8 711.2,417.6 726.2,416.8 733.8,414.8 738.4,410.8 746.1,400.8 756.2,393.1 758.9,388.3 759.8,383.2 759.9,358.2 758.8,357 748.7,355.5 744.6,353.2 741.3,348.2 740.4,343.2 740.4,333.2 742,328.2 746.2,324.2 751.2,322.3 768.8,318.1 776.2,317.3 821.2,317.2 831.2,319.3 836.3,323.2 843.4,333.2 858.8,350.8 859.8,355.8 860.3,383.2 862.3,390.8 866.2,394.9 873.8,399.2 878.8,401.5 883.8,401.9 888.7,401.3 903.8,395.4 916.2,388.2 919.1,383.2 920,375.8 918.9,365.8 908.8,348.1 902.5,330.8 902.8,325.8 904.1,323.2 906.6,320.8 911.3,318.3 928.8,317 1098.8,317.1M707.9,440.8 711.2,439.9 713.8,440.4 717.1,443.2 719.4,450.8 718.8,456.2 708.8,455.4 703.8,451.5 702.9,448.2 703.3,445.8ZM544.8,480.8 548.8,479.2 553.8,479.9 556.2,481.8 558.6,485.8 559.8,500.8 559.3,505.8 557.6,510.8 553.8,514.6 546.2,516.7 533.8,516.6 526.2,514.4 523,510.8 522.3,508.2 522.9,503.2 526.2,499.3 536.2,493 542.3,483.2ZM668.8,563 666.8,568.2 667.8,573.2 671.2,575.8 678.8,576.2 678.8,570.8 676.2,564.7 673.8,562.5 671.2,561.9ZM118,568.2 121.2,567.1 126.2,567.1 133.8,570.6 136.7,575.8 136.7,578.2 133.9,583.2 126.2,586.9 121.2,586.9 116.2,584.4 113.3,580.8 112.6,575.8 113.8,572.5ZM104.1,588.2 106.2,587.4 108.8,588.5 109.6,590.8 108.8,593.7 106.2,595.1 103.8,593.7 102.9,590.8ZM786.2,590.1 782.1,593.2 777.1,600.8 768.3,623.2 769.1,628.2 773.8,633.6 776,638.2 778.8,640.5 781.2,639.7 786.6,633.2 798.1,610.8 797.4,603.2 792.7,593.2 791,590.8 788.8,589.7ZM165,640.8 168.8,639.7 171.2,640.2 189.5,648.2 194.3,655.8 195,660.8 194.3,665.8 189.2,670.8 186.2,670.3 184.2,663.2 182.4,660.8 176.8,655.8 173.7,655.4 168.8,657.7 146.2,673.2 144.3,683.2 143,685.8 141.2,688.3 138.8,689.2 136.2,688.7 130.8,683.2 128.2,675.8 127.5,663.2 128.4,658.2 131.2,656.4 133.8,657.6 136.2,660.5 138.8,661 149.9,650.8 155.6,643.2ZM125.8,698.2 128.8,697.9 131.2,699.6 134.2,703.2 134.9,705.8 134.2,715.8 131.2,719.3 128.8,720.3 123.7,718.2 120.8,710.8 123.3,700.8ZM152.9,718.2 156.2,717.9 158.8,719.1 160.9,720.8 160.9,723.2 156.2,726.1 153.8,726.1 151.2,724.9 149.1,723.2 149.1,720.8ZM194.9,755.8 195.3,705.8 197.8,693.2 201.8,683.2 203.8,680.7 208.8,677.5 228.8,671.1 232.5,668.2 234.1,665.8 241.9,643.2 246.2,638.9 253.8,634.9 257.7,630.8 259.7,623.2 260.6,608.2 262.4,603.2 264.4,600.8 271.2,597.6 288.8,596.4 308.8,592.8 316.2,594.4 318.8,596 322.5,600.8 324.4,608.2 324.8,640.8 326.2,650 337.8,670.8 341.2,675.1 346.2,678.7 351.2,679.7 353.8,679.1 356.2,677.4 358.5,673.2 361.2,643.4 368.8,624.1 371.2,621.5 373.8,621 376.2,622 378.8,625 383.8,640.8 386,670.8 393,683.2 394.4,688.2 394.9,755.8M535.2,755.8 535.2,693.2 536.7,678.2 541.8,663.2 546.2,658.5 553.8,653.2 557.8,648.2 559.4,643.2 560.6,628.2 563.8,621.2 575.9,613.2 582.2,603.2 586.2,599.5 591.2,597.8 598.8,597.5 599.7,598.2 602.5,610.8 606.2,614.8 615.5,620.8 617.9,625.8 617.2,630.8 615.5,633.2 606.2,639.3 603.8,642 602.7,645.8 603.1,648.2 604.5,650.8 608.8,654.1 613.8,654.8 621.5,653.2 629.3,650.8 634,645.8 638.9,628.2 640.7,608.2 642.5,603.2 644.6,600.8 648.8,598.4 658.8,596.9 660,595.8 658.8,587.5 657.9,585.8 654.4,583.2 631.2,578.1 621.2,577.2 619.6,578.2 618.4,588.2 615.1,593.2 608.8,596.1 603.8,596.6 600.8,595.8 601,588.2 603.8,581.9 608.8,578.6 618.8,577.3 619.7,575.8 619.1,568.2 617.4,563.2 613.8,559.2 604.2,553.2 601.2,548.2 600.1,535.8 601.2,525.8 604.2,520.8 616.2,513.2 623.5,503.2 629.2,498.3 638.8,494.2 653.8,490.7 657.7,488.2 664.1,480.8 671.2,477.7 718.8,476.9 720,478.2 720.1,498.2 721.2,505.7 726.1,513.2 736.2,521.6 737.5,525.8 736,530.8 723.8,542.9 716.2,553.5 703.8,563.1 696.2,573 691.2,575.7 681.2,577 679.8,578.2 678.4,588.2 675.2,593.2 671.2,595.5 661.2,596.9 660,598.2 660.8,605.8 662.5,610.8 664.6,613.2 668.8,615.6 678.8,616.8 706.2,616.4 713.8,613.2 723.8,600.5 736.2,590.9 743.4,580.8 751.7,573.2 759.4,560.8 771.2,550.6 774.4,545.8 781.2,524.1 791,513.2 792.1,510.8 791.2,505.3 778.8,495.8 773.6,483.2 771.2,479.9 768.8,478.3 761.2,477 721.2,476.9 720,475.8 720.4,458.2 723.8,457.1 763.8,456.9 768.8,456.4 773.8,454.6 776.2,452.6 778.8,448.2 781.3,425.8 783.8,421.4 786.2,419.4 791.2,417.6 796.2,417.1 868.8,416.5 893.8,411.1 907.8,403.2 928.8,398.7 935,400.8 937.8,405.8 937.1,410.8 935.5,413.2 924.3,420.8 921.8,425.8 921.9,430.8 926.2,447.8 928.8,451.5 931.2,452.5 936.2,450.2 943.7,440.8 948.8,438 973.8,436.3 991.2,432.7 1011.2,432.7 1036.2,436.9 1098.8,437" fill="none" stroke="#fa3c3c" stroke-width="2"/>
<path d="M747.9,100.8 751.2,99.9 753.8,100.5 756.2,102.8 757.1,105.8 755.2,110.8 752.1,113.2 748.8,114.1 746.2,113.5 743.8,111.2 742.9,108.2 744.8,103.2ZM61.2,170.2 108.8,170.2 148.8,172.9 161.2,177.3 171.8,183.2 177,188.2 178.7,193.2 178.3,195.8 176.2,196.4 161.2,198.1 131.2,195.4 123.8,197.7 117.4,203.2 115.7,208.2 116.1,210.8 119,215.8 123.8,220.1 131.2,223.2 146.2,223.9 149.9,225.8 150.2,228.2 148.3,230.8 141.2,235.6 138.8,238.5 133.8,253.2 131.2,255.7 123.7,257.1 61.2,257.1M365.1,230.8 368.7,230.8 367.6,233.2 366.2,234.1 363.4,233.2ZM61.3,276.9 111.2,276.2 127.1,270.8 141.2,263.1 166.2,257.7 173.8,257.6 203.8,260.4 216.2,260.4 236.2,258 248.2,253.2 253.1,248.2 253.7,245.8 253,240.8 249.6,235.8 238.8,225.2 231.2,222.2 211.2,220.8 203.8,218.6 187.5,210.8 184.2,208.3 182.4,205.8 181,200.8 181.4,198.3 183.8,197.3 201.2,193.9 228.8,191.9 234.1,190.8 238.1,188.2 240,185.8 246.2,170.8 248.7,168.8 251.2,168.2 256.2,170.4 258.5,173.2 261.2,188.3 263.8,192.8 273.8,199.1 277.6,203.2 279.3,208.2 280.9,223.2 283.9,228.2 291.2,231.4 308.8,232.7 326.2,236.4 353.8,237.2 358.8,238.2 359.8,240.8 360.2,260.8 362.1,268.2 365.7,273.2 379.3,285.8 391.2,294.5 396.2,292.8 406.2,281.3 411.2,279.6 416.2,281.6 423.8,292.1 426.2,293.4 429.1,293.2 431.2,291.9 433.8,288 439.5,268.2 443.7,260.8 451.2,256.5 463.8,253.1 476.2,252.1 488.8,252.9 508.8,260.6 533.8,263 548.8,270.8 586.2,269.5 591.2,268.9 596.2,267.1 603.8,260.5 613.8,254.9 618,250.8 623.8,241.2 628.8,238.3 636.2,237.2 681.2,237 691.2,235.8 696.2,233.1 703.8,222.8 714.3,213.2 721.6,203.2 726.2,199.2 731.2,197.5 748.8,195.9 763.8,191.2 771.2,190.6 786.2,191.2 791.2,189.8 796.2,184.1 806.2,164.1 811.2,158.1 816.2,155.2 823.8,153 848.8,150.6 852.2,148.2 861.2,135.8 873.8,130.1 876.6,128.2 883.8,120.8 891.2,117.6 926.2,117.6 933.8,120.7 943.8,129.9 948.8,131.5 958.8,132.1 972.9,130.8 986.8,123.2 1008.8,118 1021.2,117.1 1031.2,118.3 1036.2,121.4 1038.7,125.8 1039.9,138.2 1038.8,145.8 1036.2,150.7 1024,160.8 1021.7,165.8 1021.8,170.8 1023.8,179 1026,185.8 1028,188.2 1033.8,189.6 1051.2,187.4 1098.8,187.3M347.8,343.2 353.8,343.8 366.2,350.8 381.2,355.5 413.8,358.5 418.8,361.1 422.5,365.8 423.3,368.2 422.6,373.2 421.1,375.8 416.2,379.7 411.2,381.3 403.8,382 371.2,381.5 346.2,375.6 341.6,373.2 339.1,370.8 336.8,365.8 336.5,360.8 338,353.2 340.2,348.2 343.8,344.6ZM261.7,455.8 266.2,453.8 271.2,453.4 276.2,454.6 281.1,458.2 283.6,463.2 284.1,468.2 282.7,473.2 278.8,478.1 273.8,480.5 268.8,480.9 263.8,479.7 259,475.8 256.6,470.8 256.3,465.8 257.5,460.8ZM301.7,455.8 306.2,453.8 311.2,453.4 316.2,454.6 321,458.2 323.4,463.2 323.7,468.2 322.5,473.2 318.7,478.1 313.8,480.6 308.8,481.1 303.8,479.7 298.9,475.8 296.4,470.8 295.9,465.8 297.3,460.8ZM61.3,468.4 106.2,468.5 118.8,470 128.8,474.8 143.1,485.7 156.2,493 188.8,514.8 193.8,516.2 211.2,517.7 228.8,527.3 258.8,533.4 266.2,534 274.7,533.2 301.4,525.8 305.9,523.2 297.4,513.2 296.1,505.8 298.9,498.2 303.8,494.3 308.8,492.9 316.2,494.3 318.8,495.9 322.5,500.8 323.9,508.2 322.8,513.2 315,523.2 321.2,525.1 326.2,524.7 328.8,523.4 334,515.8 341.2,509.9 350.3,505.8 357.8,500.8 366.2,499 378.8,500.4 388.8,506.1 413.8,515.8 433.8,516.9 446.2,515.8 448.8,514.5 452.2,510.8 454.6,503.2 454.8,473.2 452.8,463.2 448.8,459 443.8,457.4 416.2,456.8 408.8,455.6 403.8,452.1 402.1,448.2 402.1,445.8 404.7,440.8 408.8,438.4 428.7,436.4 433.8,434.7 437.9,430.8 443.6,420.8 451.2,412.9 452.4,408.2 451.8,405.8 449.6,403.2 443.8,400 438.9,395.7 435.7,388.2 435.1,370.8 438.7,363.2 441.6,360.8 446.2,358.6 451.2,357.9 456.2,358.5 461.2,361.1 468.8,372 471.3,373.4 473.8,373.3 476.2,371.8 478.4,368.2 479.7,358.2 479.1,350.8 475.3,343.2 458.8,326.7 453.8,323.2 433.8,314.1 428.7,312.9 408.8,315.5 391.2,312.7 373.8,316.4 346.2,320.1 328.8,323.8 311.2,325.3 306.2,328.2 301.2,333.2 293.8,336.4 249.7,340.8 228.8,351.8 203.8,362.1 198.9,365.8 193.8,371.8 188.8,374.4 183.7,375.6 171.2,376.6 151.2,374.7 61.2,374.7M249.2,498.2 261.2,497.1 270.7,498.2 275,500.8 276.6,503.2 276.9,505.8 275.9,508.2 272,510.8 253.8,515.1 248.8,515.1 243.8,512 242.1,508.2 242.1,505.8 244.7,500.8Z" fill="none" stroke="#1e3cff" stroke-width="2.2"/>
<path d="M760.0,597.5 762.5,590.0 770.0,570.0 780.0,550.0 797.0,539.0 818.0,530.0 829.0,513.0 850.0,505.0 865.0,467.5 875.0,462.5 895.0,480.0 900.0,482.0 919.0,496.0 934.0,491.0 943.0,484.0 953.0,477.0 963.0,477.5 989.0,506.0 995.0,518.0 999.0,535.0 1010.0,547.0 1022.0,560.0 1042.0,560.0M734.0,648.0 748.0,640.0 763.0,630.0 768.0,631.0M760.0,645.0 725.0,660.0 695.0,675.0 700.0,690.0 715.0,705.0 710.0,722.0M941.5,722.0 933.0,703.0 936.0,686.0 953.0,671.0 979.0,667.0 1003.5,664.0M546.7,722.0 545.2,703.0 555.3,685.7 572.6,671.3 587.0,668.4 590.0,677.0 575.5,685.7 561.0,697.2 555.3,708.7 552.4,722.0M196.6,723.5 208.1,704.5 216.8,692.9 231.2,687.2 242.7,675.6 245.6,664.1 260.0,652.6 262.9,646.8 265.8,655.5 285.9,652.6 300.3,643.9 311.9,635.3 317.6,643.9 323.4,661.2 332.0,675.6 340.7,687.2 349.3,692.9 353.7,710.2 358.0,723.5" fill="none" stroke="#fa3c3c" stroke-width="1.6" stroke-linejoin="round"/>
<path fill="#fff" d="M99,640 L110,667 117.5,691 127,723 99,723Z"/>
<path fill="#fff" d="M1053,529 L1038,568 1025,601 1013,637 1000,678 985.5,723 1053,723Z"/>
</g>
<g clip-path="url(#mc)" fill="none" stroke="#000" stroke-width="1" shape-rendering="crispEdges"><path d="M734.0,180.7 747.6,178.5 761.8,179.5 760.7,170.8 752.0,163.2 741.0,153.4 734.0,153.4M100.0,278.7 123.1,273.0 136.0,261.4 138.9,238.4 137.5,215.3 128.8,211.0 157.6,203.8 169.2,192.3 176.4,169.2 221.0,162.9 237.8,139.0 238.3,131.8 255.6,131.8 257.1,139.0 272.9,146.2 290.2,159.1 301.7,172.1 307.5,190.8 301.7,203.8 319.0,209.0 350.7,211.9 373.8,224.6 388.2,249.9 399.7,252.8 406.9,261.4 417.0,278.7M100.0,177.9 118.7,177.9 111.5,186.5 100.0,188.0M350.7,292.0 359.4,278.7 368.0,274.4 388.2,270.1 399.7,253.4M399.7,252.8 417.0,257.1M417.0,255.7 454.5,255.7 483.3,261.4 494.8,267.2 517.9,270.1 529.4,275.8 552.4,264.3 578.4,261.4 601.4,258.6 615.8,249.9 624.5,239.8 637.5,234.1 630.3,221.1 637.5,210.1 647.5,209.6 656.2,215.3 677.8,203.8 698.0,200.9 705.2,192.3 716.7,185.1 726.8,180.7 734.0,180.7M504.9,85.6 512.1,88.5 526.5,87.1 543.8,78.4M734.0,121.7 713.8,118.8 705.2,137.5 695.1,151.9 700.9,159.1 722.5,154.8 734.0,153.4M667.7,292.0 670.6,277.3 677.8,275.8 679.2,265.8 683.6,267.2 685.0,275.8 693.7,274.4 705.2,270.1 713.8,267.2 716.7,258.6 722.5,260.0 729.7,255.7 734.0,261.4M417.0,288.8 431.4,287.4 445.8,292.0M734.0,123.1 745.5,115.9 755.6,105.8 762.8,94.3 774.3,82.8 783.0,77.0M807.5,77.0 811.8,90.0 820.5,91.4 843.5,85.6 850.7,84.2 860.8,97.2 855.0,108.7 847.8,117.3 845.0,130.3 836.3,144.7 834.9,151.9 820.5,160.6 806.0,169.2 813.3,173.5 820.5,173.5 823.3,177.9 826.2,192.3 834.9,200.9 855.0,203.8 869.4,206.7 883.9,221.1 891.1,226.9 898.3,221.1 906.9,236.9 918.4,232.6 930.0,229.7 935.7,238.4 942.9,241.3M869.4,77.0 875.2,91.4 881.0,105.8 885.3,120.2 895.4,123.1 909.8,126.0 930.0,137.5 935.7,153.4 938.6,157.7 964.5,159.1 973.2,151.9 993.4,146.2 1003.5,146.2 999.1,151.9 997.7,160.6 987.6,175.0 984.7,189.4 979.0,200.9 973.2,208.1 961.7,206.7 941.5,212.4 940.1,226.9 942.9,241.3 932.8,249.9 918.4,252.8 912.7,261.4 889.6,277.3 875.2,273.0 869.4,278.7 857.9,292.0M791.6,192.3 796.0,203.8 798.8,218.2 817.6,224.0 820.5,238.4 823.3,239.8 834.9,249.9 840.6,247.0 849.3,264.3 852.2,278.7 857.9,292.0M791.6,192.3 806.0,186.5 814.7,177.9 820.5,173.5M932.8,249.9 947.3,249.9 979.0,238.4 1007.8,221.1 1022.2,212.4 1036.6,198.0 1048.1,189.4M734.0,275.8 738.3,267.2 751.3,261.4 759.9,261.4 765.7,270.1 777.2,261.4 800.3,249.9 820.5,239.8M100.0,398.6 111.5,418.8 125.9,410.2 137.5,395.7 147.6,392.9 166.3,391.4 177.8,390.0 186.5,394.3 200.9,391.4 221.0,384.2 235.4,378.5 249.9,375.6 261.4,375.6 272.9,377.0 284.4,381.3 301.7,378.5 307.5,369.8 308.9,358.3 301.7,349.6 296.0,335.2 301.7,332.3 319.0,323.7 336.3,320.8 336.3,297.8 347.8,292.0M336.3,320.8 359.4,319.4 382.4,329.5 399.7,336.7 401.2,320.8 417.0,328.0M284.4,381.3 287.3,401.5 284.4,418.8 293.1,430.3 301.7,436.1 313.3,433.2 319.0,439.0 339.2,444.7 353.6,449.1 362.2,446.2 376.7,453.4 383.9,462.0 391.1,464.9M111.5,418.8 113.0,430.3 120.2,441.9 117.3,449.1 108.6,451.9 111.5,464.9 114.4,472.1 128.8,479.3 140.3,488.0 151.9,490.8 157.6,488.0 166.3,490.8 174.9,502.4 186.5,507.0M417.0,420.2 412.7,418.8 406.9,423.1 409.8,430.3 417.0,433.2M417.0,296.3 428.5,292.0M440.1,305.0 454.5,312.2 457.3,320.8 451.6,335.2 466.0,342.4 479.0,351.1 489.0,361.2 493.4,374.1 487.6,387.1 484.7,397.2 476.1,407.3 486.2,411.6 479.0,427.4 474.6,436.1M484.7,322.3 500.6,317.9 512.1,317.9 513.5,326.6 503.5,335.2 502.0,343.9 515.0,349.6 520.7,354.0 530.8,369.8 535.2,385.7 543.8,391.4M520.7,354.0 532.3,349.6 540.9,346.8 545.2,320.8 555.3,317.9 558.2,326.6 551.0,336.7 566.9,345.3 576.9,351.1 587.0,349.6 589.9,338.1 601.4,326.6 615.8,316.5 624.5,313.6 633.1,310.7 644.7,302.1 656.2,299.2M576.9,351.1 564.0,349.6 564.0,361.2 568.3,369.8 584.1,372.7 585.6,387.1 584.1,395.7 574.1,394.3 566.9,401.5 558.2,400.1M543.8,391.4 552.4,378.5 551.0,369.8 555.3,361.2 564.0,361.2M543.8,391.4 552.4,395.7 551.0,405.8 543.8,418.8 552.4,427.4 540.9,430.3 543.8,439.0 532.3,443.3 519.3,444.7 516.4,433.2 519.3,421.7 515.0,413.0M615.8,316.5 618.7,335.2 615.8,349.6 618.7,358.3 613.0,372.7 615.8,387.1 611.5,407.3 615.8,418.8 621.6,433.2 636.0,444.7 644.7,450.5 664.8,449.1 667.7,459.1 676.4,462.0 693.7,464.9 700.9,476.4 705.2,490.8 713.8,493.7 722.5,499.5 734.0,493.7M611.5,407.3 636.0,400.1 653.3,394.3 664.8,375.6 662.0,366.9 670.6,354.0 673.5,329.5 679.2,320.8 673.5,309.3 676.4,300.6 686.5,292.0M664.8,375.6 693.7,379.9 682.1,398.6 693.7,407.3 708.1,407.3 716.7,413.0 734.0,418.8M540.9,430.3 558.2,441.9 578.4,453.4 592.8,457.7 601.4,462.0 607.2,476.4 592.8,488.0 584.1,507.0M578.4,453.4 574.1,470.7 566.9,482.2 564.0,493.7 558.2,507.0M601.4,462.0 615.8,456.3 621.6,433.2M417.0,420.2 425.6,427.4 434.3,439.0 430.0,453.4 432.9,464.9 428.5,479.3 431.4,507.0M460.2,413.0 467.4,418.8 477.5,433.2 483.3,424.6 491.9,414.5 500.6,420.2 506.3,426.0 516.4,433.2M783.0,292.0 787.3,309.3 783.0,326.6 794.5,323.7 803.2,315.1 820.5,306.4M843.5,292.0 840.6,309.3 849.3,326.6 840.6,342.4 849.3,349.6 865.1,354.0 868.0,362.6 862.2,366.9 866.6,381.3 865.1,392.9 865.1,404.4 883.9,405.8 904.0,398.6 909.8,390.0 914.1,369.8 911.2,352.5 904.0,338.1 895.4,323.7 886.7,315.1 881.0,309.3 886.7,300.6 895.4,292.0M734.0,342.4 744.1,343.9 749.9,358.3 762.8,361.2 772.9,345.3 784.4,348.2 791.6,354.0 806.0,356.8 803.2,364.0 788.8,369.8 777.2,375.6 768.6,381.3 761.4,390.0 751.3,401.5 754.2,407.3 768.6,407.3 772.9,424.6 780.1,447.6 781.6,459.1 788.8,464.9 783.0,470.7 788.8,482.2 777.2,490.8 774.3,499.5 783.0,507.0M955.9,407.3 947.3,407.3 937.2,413.0 938.6,421.7 932.8,423.1 921.3,427.4 915.6,433.2 924.2,441.9 930.0,439.0 932.8,453.4 925.6,459.1 927.1,470.7 935.7,473.6 945.8,467.8 945.8,453.4 953.0,441.9 953.0,430.3 961.7,436.1 973.2,441.9 984.7,433.2 996.2,427.4 994.8,418.8 984.7,415.9 976.1,418.8M953.0,407.3 964.5,401.5 970.3,391.4 993.4,392.9 1010.7,390.0 1019.3,384.2 1022.2,375.6 1030.8,369.8 1039.5,366.9 1048.1,369.8M993.4,404.4 1010.7,405.8 1019.3,413.0 1033.7,401.5 1048.1,407.3M734.0,436.1 736.9,447.6 742.6,453.4M734.0,476.4 745.5,479.3 759.9,472.1 771.5,479.3 777.2,490.8M186.5,507.0 198.0,515.6 215.3,524.3 226.8,532.9 238.3,535.8 255.6,534.4 272.9,535.8 284.4,530.1 301.7,534.4 313.3,535.8 319.0,544.5 330.5,550.2 347.8,547.3 359.4,540.1 376.7,531.5 388.2,530.1 399.7,532.9 417.0,531.5M195.1,722.0 206.6,703.0 215.3,691.4 229.7,685.7 241.2,674.1 244.1,662.6 258.5,651.1 261.4,645.3 264.3,654.0 284.4,651.1 298.8,642.4 310.4,633.8 316.1,642.4 321.9,659.7 330.5,674.1 339.2,685.7 347.8,691.4 352.2,708.7 356.5,722.0M414.1,584.8 412.7,596.3 411.2,610.7 417.0,607.9M428.5,550.2 427.1,579.0 430.0,607.9 425.6,609.3 417.0,607.9M430.0,607.9 434.3,622.3 440.1,630.9 435.7,645.3 445.8,648.2 451.6,656.9 460.2,654.0 468.9,662.6 474.6,661.2 473.2,642.4 483.3,638.1 500.6,633.8 512.1,630.9 532.3,622.3 538.0,619.4 540.9,607.9M428.5,550.2 425.6,535.8 431.4,524.3 428.5,512.8M444.4,518.5 451.6,535.8 460.2,537.3 468.9,553.1 477.5,569.0 491.9,564.6 496.3,553.1 493.4,544.5 503.5,538.7 503.5,524.3 515.0,521.4M506.3,553.1 512.1,561.8 520.7,558.9 517.9,576.2 523.6,593.5 532.3,590.6 538.0,602.1 540.9,607.9 546.7,628.0 555.3,633.8 558.2,648.2 566.9,654.0 578.4,651.1 582.7,648.2M538.0,593.5 552.4,590.6 561.1,581.9 572.6,587.7 584.1,579.0 595.7,576.2 601.4,567.5 595.7,556.0 594.2,535.8 589.9,527.2 584.1,518.5 572.6,511.3M601.4,567.5 618.7,564.6 624.5,573.3 630.3,581.9 624.5,590.6 636.0,593.5 638.9,605.0 630.3,616.5 624.5,628.0 615.8,636.7 613.0,645.3 607.2,648.2 595.7,648.2 589.9,654.0M582.7,648.2 589.9,655.4 601.4,659.7 604.3,677.0 610.1,679.9 613.0,664.1 618.7,656.9 636.0,654.0 647.5,649.7 659.1,645.3 667.7,642.4 670.6,638.1 679.2,639.6 693.7,630.9 705.2,628.0 716.7,619.4 725.4,610.7 734.0,602.1M589.9,691.4 601.4,685.7 618.7,684.2 623.1,691.4 615.8,705.8 604.3,718.8 592.8,718.8 585.6,708.7 587.0,697.2 589.9,691.4M582.7,648.2 566.9,656.9 552.4,668.4 540.9,685.7 538.0,703.0 540.9,722.0M636.0,593.5 647.5,587.7 662.0,584.8 670.6,583.4 669.2,564.6 664.8,541.6 670.6,524.3 667.7,507.0M670.6,583.4 682.1,584.8 676.4,593.5 687.9,596.3 699.4,590.6 705.2,576.2 713.8,564.6 719.6,550.2 734.0,535.8M699.4,590.6 713.8,599.2 716.7,613.6 716.7,619.4M790.2,586.3 796.0,593.5 796.0,605.0 791.6,619.4 784.4,636.7 778.7,645.3 772.9,639.6 768.6,622.3 772.9,605.0 781.6,590.6 790.2,586.3M774.3,722.0 777.2,714.5 791.6,710.2 801.7,714.5 803.2,722.0"/><path stroke-width="2.6" stroke-dasharray="2 1.5" d="M796.0,507.0 791.6,518.5 783.0,532.9 771.5,550.2 762.8,567.5 754.2,581.9 745.5,590.6 734.0,602.1M783.0,470.7 788.8,482.2 784.4,493.7 791.6,507.0M618.7,656.9 636.0,654.0 647.5,649.7 659.1,645.3 667.7,642.4 679.2,639.6 693.7,630.9 705.2,628.0 716.7,619.4 725.4,610.7 734.0,602.1"/></g>
<g clip-path="url(#mc)"><rect x="227.4" y="84.8" width="31.2" height="16.4" fill="#fff"/><text x='243.0' y='98.6' text-anchor='middle' font-size='16.4' font-weight='bold' fill='#fa2828' class='m'>-16</text><rect x="297.9" y="99.3" width="31.2" height="16.4" fill="#fff"/><text x='313.5' y='113.1' text-anchor='middle' font-size='16.4' font-weight='bold' fill='#fa2828' class='m'>-16</text><rect x="347.9" y="85.3" width="31.2" height="16.4" fill="#fff"/><text x='363.5' y='99.1' text-anchor='middle' font-size='16.4' font-weight='bold' fill='#fa2828' class='m'>-12</text><rect x="376.9" y="93.8" width="31.2" height="16.4" fill="#fff"/><text x='392.5' y='107.6' text-anchor='middle' font-size='16.4' font-weight='bold' fill='#fa2828' class='m'>-20</text><rect x="333.2" y="118.8" width="21.0" height="16.4" fill="#fff"/><text x='343.7' y='132.6' text-anchor='middle' font-size='16.4' font-weight='bold' fill='#fa2828' class='m'>-8</text><rect x="212.5" y="129.8" width="21.0" height="16.4" fill="#fff"/><text x='223.0' y='143.6' text-anchor='middle' font-size='16.4' font-weight='bold' fill='#fa2828' class='m'>-4</text><rect x="215.0" y="137.5" width="21.0" height="16.4" fill="#fff"/><text x='225.5' y='151.3' text-anchor='middle' font-size='16.4' font-weight='bold' fill='#fa2828' class='m'>-4</text><rect x="261.9" y="140.5" width="31.2" height="16.4" fill="#fff"/><text x='277.5' y='154.3' text-anchor='middle' font-size='16.4' font-weight='bold' fill='#fa2828' class='m'>-20</text><rect x="422.4" y="140.8" width="31.2" height="16.4" fill="#fff"/><text x='438.0' y='154.6' text-anchor='middle' font-size='16.4' font-weight='bold' fill='#fa2828' class='m'>-20</text><rect x="492.4" y="131.8" width="31.2" height="16.4" fill="#fff"/><text x='508.0' y='145.6' text-anchor='middle' font-size='16.4' font-weight='bold' fill='#fa2828' class='m'>-16</text><rect x="499.4" y="149.3" width="31.2" height="16.4" fill="#fff"/><text x='515.0' y='163.1' text-anchor='middle' font-size='16.4' font-weight='bold' fill='#fa2828' class='m'>-12</text><rect x="198.7" y="153.8" width="21.0" height="16.4" fill="#fff"/><text x='209.2' y='167.6' text-anchor='middle' font-size='16.4' font-weight='bold' fill='#fa2828' class='m'>-4</text><rect x="325.1" y="166.8" width="31.2" height="16.4" fill="#fff"/><text x='340.7' y='180.6' text-anchor='middle' font-size='16.4' font-weight='bold' fill='#fa2828' class='m'>-12</text><rect x="177.1" y="179.3" width="10.8" height="16.4" fill="#fff"/><text x='182.5' y='193.1' text-anchor='middle' font-size='16.4' font-weight='bold' fill='#1e3cff' class='m'>0</text><rect x="177.1" y="197.3" width="10.8" height="16.4" fill="#fff"/><text x='182.5' y='211.1' text-anchor='middle' font-size='16.4' font-weight='bold' fill='#1e3cff' class='m'>0</text><rect x="382.5" y="194.8" width="21.0" height="16.4" fill="#fff"/><text x='393.0' y='208.6' text-anchor='middle' font-size='16.4' font-weight='bold' fill='#fa2828' class='m'>-8</text><rect x="528.2" y="194.8" width="21.0" height="16.4" fill="#fff"/><text x='538.7' y='208.6' text-anchor='middle' font-size='16.4' font-weight='bold' fill='#fa2828' class='m'>-8</text><rect x="156.2" y="213.8" width="21.0" height="16.4" fill="#fff"/><text x='166.7' y='227.6' text-anchor='middle' font-size='16.4' font-weight='bold' fill='#fa2828' class='m'>-4</text><rect x="178.7" y="213.8" width="21.0" height="16.4" fill="#fff"/><text x='189.2' y='227.6' text-anchor='middle' font-size='16.4' font-weight='bold' fill='#fa2828' class='m'>-4</text><rect x="262.1" y="215.3" width="10.8" height="16.4" fill="#fff"/><text x='267.5' y='229.1' text-anchor='middle' font-size='16.4' font-weight='bold' fill='#1e3cff' class='m'>0</text><rect x="135.6" y="231.3" width="10.8" height="16.4" fill="#fff"/><text x='141.0' y='245.1' text-anchor='middle' font-size='16.4' font-weight='bold' fill='#1e3cff' class='m'>0</text><rect x="460.7" y="234.8" width="21.0" height="16.4" fill="#fff"/><text x='471.2' y='248.6' text-anchor='middle' font-size='16.4' font-weight='bold' fill='#fa2828' class='m'>-4</text><rect x="234.0" y="245.0" width="21.0" height="16.4" fill="#fff"/><text x='244.5' y='258.8' text-anchor='middle' font-size='16.4' font-weight='bold' fill='#fa2828' class='m'>-8</text><rect x="351.5" y="240.0" width="21.0" height="16.4" fill="#fff"/><text x='362.0' y='253.8' text-anchor='middle' font-size='16.4' font-weight='bold' fill='#fa2828' class='m'>-4</text><rect x="279.6" y="259.8" width="10.8" height="16.4" fill="#fff"/><text x='285.0' y='273.6' text-anchor='middle' font-size='16.4' font-weight='bold' fill='#1e3cff' class='m'>0</text><rect x="138.6" y="263.8" width="10.8" height="16.4" fill="#fff"/><text x='144.0' y='277.6' text-anchor='middle' font-size='16.4' font-weight='bold' fill='#fa2828' class='m'>4</text><rect x="129.6" y="264.3" width="10.8" height="16.4" fill="#fff"/><text x='135.0' y='278.1' text-anchor='middle' font-size='16.4' font-weight='bold' fill='#1e3cff' class='m'>0</text><rect x="189.6" y="261.3" width="10.8" height="16.4" fill="#fff"/><text x='195.0' y='275.1' text-anchor='middle' font-size='16.4' font-weight='bold' fill='#fa2828' class='m'>4</text><rect x="390.0" y="271.0" width="21.0" height="16.4" fill="#fff"/><text x='400.5' y='284.8' text-anchor='middle' font-size='16.4' font-weight='bold' fill='#fa2828' class='m'>-4</text><rect x="400.1" y="282.3" width="10.8" height="16.4" fill="#fff"/><text x='405.5' y='296.1' text-anchor='middle' font-size='16.4' font-weight='bold' fill='#1e3cff' class='m'>0</text><rect x="477.1" y="293.5" width="10.8" height="16.4" fill="#fff"/><text x='482.5' y='307.3' text-anchor='middle' font-size='16.4' font-weight='bold' fill='#fa2828' class='m'>4</text><rect x="338.6" y="298.0" width="10.8" height="16.4" fill="#fff"/><text x='344.0' y='311.8' text-anchor='middle' font-size='16.4' font-weight='bold' fill='#fa2828' class='m'>4</text><rect x="372.5" y="309.8" width="21.0" height="16.4" fill="#fff"/><text x='383.0' y='323.6' text-anchor='middle' font-size='16.4' font-weight='bold' fill='#fa2828' class='m'>-4</text><rect x="457.6" y="322.3" width="10.8" height="16.4" fill="#fff"/><text x='463.0' y='336.1' text-anchor='middle' font-size='16.4' font-weight='bold' fill='#1e3cff' class='m'>0</text><rect x="316.1" y="332.3" width="10.8" height="16.4" fill="#fff"/><text x='321.5' y='346.1' text-anchor='middle' font-size='16.4' font-weight='bold' fill='#1e3cff' class='m'>0</text><rect x="239.6" y="342.8" width="10.8" height="16.4" fill="#fff"/><text x='245.0' y='356.6' text-anchor='middle' font-size='16.4' font-weight='bold' fill='#fa2828' class='m'>4</text><rect x="236.1" y="335.0" width="10.8" height="16.4" fill="#fff"/><text x='241.5' y='348.8' text-anchor='middle' font-size='16.4' font-weight='bold' fill='#1e3cff' class='m'>0</text><rect x="217.5" y="351.3" width="21.0" height="16.4" fill="#fff"/><text x='228.0' y='365.1' text-anchor='middle' font-size='16.4' font-weight='bold' fill='#fa2828' class='m'>-8</text><rect x="145.6" y="361.0" width="10.8" height="16.4" fill="#fff"/><text x='151.0' y='374.8' text-anchor='middle' font-size='16.4' font-weight='bold' fill='#fa2828' class='m'>8</text><rect x="274.5" y="385.0" width="21.0" height="16.4" fill="#fff"/><text x='285.0' y='398.8' text-anchor='middle' font-size='16.4' font-weight='bold' fill='#fa2828' class='m'>-4</text><rect x="161.2" y="399.8" width="21.0" height="16.4" fill="#fff"/><text x='171.7' y='413.6' text-anchor='middle' font-size='16.4' font-weight='bold' fill='#fa2828' class='m'>-8</text><rect x="354.0" y="402.5" width="21.0" height="16.4" fill="#fff"/><text x='364.5' y='416.3' text-anchor='middle' font-size='16.4' font-weight='bold' fill='#fa2828' class='m'>-4</text><rect x="542.6" y="387.8" width="10.8" height="16.4" fill="#fff"/><text x='548.0' y='401.6' text-anchor='middle' font-size='16.4' font-weight='bold' fill='#fa2828' class='m'>8</text><rect x="542.5" y="406.8" width="21.0" height="16.4" fill="#fff"/><text x='553.0' y='420.6' text-anchor='middle' font-size='16.4' font-weight='bold' fill='#fa2828' class='m'>12</text><rect x="609.5" y="97.5" width="21.0" height="16.4" fill="#fff"/><text x='620.0' y='111.3' text-anchor='middle' font-size='16.4' font-weight='bold' fill='#fa2828' class='m'>-8</text><rect x="762.0" y="170.0" width="21.0" height="16.4" fill="#fff"/><text x='772.5' y='183.8' text-anchor='middle' font-size='16.4' font-weight='bold' fill='#fa2828' class='m'>-4</text><rect x="872.1" y="129.8" width="10.8" height="16.4" fill="#fff"/><text x='877.5' y='143.6' text-anchor='middle' font-size='16.4' font-weight='bold' fill='#1e3cff' class='m'>0</text><rect x="1029.6" y="106.3" width="10.8" height="16.4" fill="#fff"/><text x='1035.0' y='120.1' text-anchor='middle' font-size='16.4' font-weight='bold' fill='#1e3cff' class='m'>0</text><rect x="954.6" y="140.3" width="10.8" height="16.4" fill="#fff"/><text x='960.0' y='154.1' text-anchor='middle' font-size='16.4' font-weight='bold' fill='#fa2828' class='m'>4</text><rect x="957.1" y="184.3" width="10.8" height="16.4" fill="#fff"/><text x='962.5' y='198.1' text-anchor='middle' font-size='16.4' font-weight='bold' fill='#fa2828' class='m'>8</text><rect x="721.1" y="194.8" width="10.8" height="16.4" fill="#fff"/><text x='726.5' y='208.6' text-anchor='middle' font-size='16.4' font-weight='bold' fill='#1e3cff' class='m'>0</text><rect x="659.5" y="208.8" width="21.0" height="16.4" fill="#fff"/><text x='670.0' y='222.6' text-anchor='middle' font-size='16.4' font-weight='bold' fill='#fa2828' class='m'>-4</text><rect x="868.5" y="206.8" width="21.0" height="16.4" fill="#fff"/><text x='879.0' y='220.6' text-anchor='middle' font-size='16.4' font-weight='bold' fill='#fa2828' class='m'>12</text><rect x="779.6" y="216.8" width="10.8" height="16.4" fill="#fff"/><text x='785.0' y='230.6' text-anchor='middle' font-size='16.4' font-weight='bold' fill='#fa2828' class='m'>4</text><rect x="787.1" y="227.8" width="10.8" height="16.4" fill="#fff"/><text x='792.5' y='241.6' text-anchor='middle' font-size='16.4' font-weight='bold' fill='#fa2828' class='m'>8</text><rect x="946.0" y="229.8" width="21.0" height="16.4" fill="#fff"/><text x='956.5' y='243.6' text-anchor='middle' font-size='16.4' font-weight='bold' fill='#fa2828' class='m'>12</text><rect x="946.0" y="244.3" width="21.0" height="16.4" fill="#fff"/><text x='956.5' y='258.1' text-anchor='middle' font-size='16.4' font-weight='bold' fill='#fa2828' class='m'>16</text><rect x="549.1" y="274.8" width="10.8" height="16.4" fill="#fff"/><text x='554.5' y='288.6' text-anchor='middle' font-size='16.4' font-weight='bold' fill='#1e3cff' class='m'>0</text><rect x="662.1" y="278.8" width="10.8" height="16.4" fill="#fff"/><text x='667.5' y='292.6' text-anchor='middle' font-size='16.4' font-weight='bold' fill='#fa2828' class='m'>4</text><rect x="653.6" y="294.3" width="10.8" height="16.4" fill="#fff"/><text x='659.0' y='308.1' text-anchor='middle' font-size='16.4' font-weight='bold' fill='#fa2828' class='m'>8</text><rect x="722.0" y="297.8" width="21.0" height="16.4" fill="#fff"/><text x='732.5' y='311.6' text-anchor='middle' font-size='16.4' font-weight='bold' fill='#fa2828' class='m'>16</text><rect x="819.5" y="303.0" width="21.0" height="16.4" fill="#fff"/><text x='830.0' y='316.8' text-anchor='middle' font-size='16.4' font-weight='bold' fill='#fa2828' class='m'>20</text><rect x="842.0" y="295.3" width="21.0" height="16.4" fill="#fff"/><text x='852.5' y='309.1' text-anchor='middle' font-size='16.4' font-weight='bold' fill='#fa2828' class='m'>16</text><rect x="898.0" y="299.3" width="21.0" height="16.4" fill="#fff"/><text x='908.5' y='313.1' text-anchor='middle' font-size='16.4' font-weight='bold' fill='#fa2828' class='m'>20</text><rect x="1024.5" y="354.3" width="21.0" height="16.4" fill="#fff"/><text x='1035.0' y='368.1' text-anchor='middle' font-size='16.4' font-weight='bold' fill='#fa2828' class='m'>16</text><rect x="648.0" y="377.8" width="21.0" height="16.4" fill="#fff"/><text x='658.5' y='391.6' text-anchor='middle' font-size='16.4' font-weight='bold' fill='#fa2828' class='m'>12</text><rect x="716.0" y="404.3" width="21.0" height="16.4" fill="#fff"/><text x='726.5' y='418.1' text-anchor='middle' font-size='16.4' font-weight='bold' fill='#fa2828' class='m'>20</text><rect x="860.5" y="405.8" width="21.0" height="16.4" fill="#fff"/><text x='871.0' y='419.6' text-anchor='middle' font-size='16.4' font-weight='bold' fill='#fa2828' class='m'>24</text><rect x="947.0" y="419.3" width="21.0" height="16.4" fill="#fff"/><text x='957.5' y='433.1' text-anchor='middle' font-size='16.4' font-weight='bold' fill='#fa2828' class='m'>24</text><rect x="954.5" y="404.8" width="21.0" height="16.4" fill="#fff"/><text x='965.0' y='418.6' text-anchor='middle' font-size='16.4' font-weight='bold' fill='#fa2828' class='m'>20</text><rect x="156.2" y="421.3" width="21.0" height="16.4" fill="#fff"/><text x='166.7' y='435.1' text-anchor='middle' font-size='16.4' font-weight='bold' fill='#fa2828' class='m'>-4</text><rect x="297.1" y="446.3" width="10.8" height="16.4" fill="#fff"/><text x='302.5' y='460.1' text-anchor='middle' font-size='16.4' font-weight='bold' fill='#1e3cff' class='m'>0</text><rect x="452.1" y="442.8" width="10.8" height="16.4" fill="#fff"/><text x='457.5' y='456.6' text-anchor='middle' font-size='16.4' font-weight='bold' fill='#1e3cff' class='m'>0</text><rect x="391.1" y="455.3" width="10.8" height="16.4" fill="#fff"/><text x='396.5' y='469.1' text-anchor='middle' font-size='16.4' font-weight='bold' fill='#1e3cff' class='m'>0</text><rect x="170.2" y="465.3" width="21.0" height="16.4" fill="#fff"/><text x='180.7' y='479.1' text-anchor='middle' font-size='16.4' font-weight='bold' fill='#fa2828' class='m'>-4</text><rect x="484.6" y="466.3" width="10.8" height="16.4" fill="#fff"/><text x='490.0' y='480.1' text-anchor='middle' font-size='16.4' font-weight='bold' fill='#fa2828' class='m'>4</text><rect x="115.2" y="472.8" width="21.0" height="16.4" fill="#fff"/><text x='125.7' y='486.6' text-anchor='middle' font-size='16.4' font-weight='bold' fill='#fa2828' class='m'>-4</text><rect x="156.1" y="493.8" width="10.8" height="16.4" fill="#fff"/><text x='161.5' y='507.6' text-anchor='middle' font-size='16.4' font-weight='bold' fill='#fa2828' class='m'>4</text><rect x="363.6" y="498.8" width="10.8" height="16.4" fill="#fff"/><text x='369.0' y='512.6' text-anchor='middle' font-size='16.4' font-weight='bold' fill='#fa2828' class='m'>4</text><rect x="376.2" y="493.8" width="21.0" height="16.4" fill="#fff"/><text x='386.7' y='507.6' text-anchor='middle' font-size='16.4' font-weight='bold' fill='#fa2828' class='m'>-4</text><rect x="115.5" y="508.3" width="21.0" height="16.4" fill="#fff"/><text x='126.0' y='522.1' text-anchor='middle' font-size='16.4' font-weight='bold' fill='#fa2828' class='m'>20</text><rect x="510.5" y="526.3" width="21.0" height="16.4" fill="#fff"/><text x='521.0' y='540.1' text-anchor='middle' font-size='16.4' font-weight='bold' fill='#fa2828' class='m'>20</text><rect x="521.0" y="514.3" width="21.0" height="16.4" fill="#fff"/><text x='531.5' y='528.1' text-anchor='middle' font-size='16.4' font-weight='bold' fill='#fa2828' class='m'>24</text><rect x="402.6" y="516.3" width="10.8" height="16.4" fill="#fff"/><text x='408.0' y='530.1' text-anchor='middle' font-size='16.4' font-weight='bold' fill='#1e3cff' class='m'>0</text><rect x="185.5" y="524.3" width="21.0" height="16.4" fill="#fff"/><text x='196.0' y='538.1' text-anchor='middle' font-size='16.4' font-weight='bold' fill='#fa2828' class='m'>16</text><rect x="238.1" y="530.3" width="10.8" height="16.4" fill="#fff"/><text x='243.5' y='544.1' text-anchor='middle' font-size='16.4' font-weight='bold' fill='#1e3cff' class='m'>0</text><rect x="401.0" y="530.8" width="21.0" height="16.4" fill="#fff"/><text x='411.5' y='544.6' text-anchor='middle' font-size='16.4' font-weight='bold' fill='#fa2828' class='m'>16</text><rect x="262.1" y="534.8" width="10.8" height="16.4" fill="#fff"/><text x='267.5' y='548.6' text-anchor='middle' font-size='16.4' font-weight='bold' fill='#fa2828' class='m'>8</text><rect x="274.5" y="542.8" width="21.0" height="16.4" fill="#fff"/><text x='285.0' y='556.6' text-anchor='middle' font-size='16.4' font-weight='bold' fill='#fa2828' class='m'>12</text><rect x="308.5" y="547.8" width="21.0" height="16.4" fill="#fff"/><text x='319.0' y='561.6' text-anchor='middle' font-size='16.4' font-weight='bold' fill='#fa2828' class='m'>20</text><rect x="382.5" y="547.8" width="21.0" height="16.4" fill="#fff"/><text x='393.0' y='561.6' text-anchor='middle' font-size='16.4' font-weight='bold' fill='#fa2828' class='m'>20</text><rect x="435.6" y="547.8" width="10.8" height="16.4" fill="#fff"/><text x='441.0' y='561.6' text-anchor='middle' font-size='16.4' font-weight='bold' fill='#fa2828' class='m'>8</text><rect x="292.0" y="576.8" width="21.0" height="16.4" fill="#fff"/><text x='302.5' y='590.6' text-anchor='middle' font-size='16.4' font-weight='bold' fill='#fa2828' class='m'>24</text><rect x="418.5" y="577.8" width="21.0" height="16.4" fill="#fff"/><text x='429.0' y='591.6' text-anchor='middle' font-size='16.4' font-weight='bold' fill='#fa2828' class='m'>12</text><rect x="387.5" y="592.8" width="21.0" height="16.4" fill="#fff"/><text x='398.0' y='606.6' text-anchor='middle' font-size='16.4' font-weight='bold' fill='#fa2828' class='m'>24</text><rect x="495.5" y="595.8" width="21.0" height="16.4" fill="#fff"/><text x='506.0' y='609.6' text-anchor='middle' font-size='16.4' font-weight='bold' fill='#fa2828' class='m'>16</text><rect x="295.5" y="622.8" width="21.0" height="16.4" fill="#fff"/><text x='306.0' y='636.6' text-anchor='middle' font-size='16.4' font-weight='bold' fill='#fa2828' class='m'>28</text><rect x="508.5" y="654.3" width="21.0" height="16.4" fill="#fff"/><text x='519.0' y='668.1' text-anchor='middle' font-size='16.4' font-weight='bold' fill='#fa2828' class='m'>20</text><rect x="428.5" y="665.3" width="21.0" height="16.4" fill="#fff"/><text x='439.0' y='679.1' text-anchor='middle' font-size='16.4' font-weight='bold' fill='#fa2828' class='m'>20</text><rect x="169.5" y="673.3" width="21.0" height="16.4" fill="#fff"/><text x='180.0' y='687.1' text-anchor='middle' font-size='16.4' font-weight='bold' fill='#fa2828' class='m'>24</text><rect x="185.0" y="701.8" width="21.0" height="16.4" fill="#fff"/><text x='195.5' y='715.6' text-anchor='middle' font-size='16.4' font-weight='bold' fill='#fa2828' class='m'>24</text><rect x="593.5" y="436.3" width="21.0" height="16.4" fill="#fff"/><text x='604.0' y='450.1' text-anchor='middle' font-size='16.4' font-weight='bold' fill='#fa2828' class='m'>16</text><rect x="737.5" y="441.8" width="21.0" height="16.4" fill="#fff"/><text x='748.0' y='455.6' text-anchor='middle' font-size='16.4' font-weight='bold' fill='#fa2828' class='m'>24</text><rect x="723.5" y="465.3" width="21.0" height="16.4" fill="#fff"/><text x='734.0' y='479.1' text-anchor='middle' font-size='16.4' font-weight='bold' fill='#fa2828' class='m'>24</text><rect x="942.5" y="468.3" width="21.0" height="16.4" fill="#fff"/><text x='953.0' y='482.1' text-anchor='middle' font-size='16.4' font-weight='bold' fill='#fa2828' class='m'>28</text><rect x="593.5" y="494.3" width="21.0" height="16.4" fill="#fff"/><text x='604.0' y='508.1' text-anchor='middle' font-size='16.4' font-weight='bold' fill='#fa2828' class='m'>20</text><rect x="590.5" y="548.3" width="21.0" height="16.4" fill="#fff"/><text x='601.0' y='562.1' text-anchor='middle' font-size='16.4' font-weight='bold' fill='#fa2828' class='m'>24</text><rect x="744.5" y="596.8" width="21.0" height="16.4" fill="#fff"/><text x='755.0' y='610.6' text-anchor='middle' font-size='16.4' font-weight='bold' fill='#fa2828' class='m'>28</text><rect x="675.5" y="619.3" width="21.0" height="16.4" fill="#fff"/><text x='686.0' y='633.1' text-anchor='middle' font-size='16.4' font-weight='bold' fill='#fa2828' class='m'>24</text><rect x="767.5" y="625.8" width="21.0" height="16.4" fill="#fff"/><text x='778.0' y='639.6' text-anchor='middle' font-size='16.4' font-weight='bold' fill='#fa2828' class='m'>24</text><rect x="562.5" y="628.3" width="21.0" height="16.4" fill="#fff"/><text x='573.0' y='642.1' text-anchor='middle' font-size='16.4' font-weight='bold' fill='#fa2828' class='m'>24</text><rect x="593.5" y="626.8" width="21.0" height="16.4" fill="#fff"/><text x='604.0' y='640.6' text-anchor='middle' font-size='16.4' font-weight='bold' fill='#fa2828' class='m'>24</text><rect x="562.5" y="690.3" width="21.0" height="16.4" fill="#fff"/><text x='573.0' y='704.1' text-anchor='middle' font-size='16.4' font-weight='bold' fill='#fa2828' class='m'>28</text></g>
<rect x="100" y="77" width="950" height="646" fill="none" stroke="#000" stroke-width="2"/>
<path d="M94,96.4H100" stroke="#000" stroke-width="1.3"/><text x="88.5" y="103.0" text-anchor="end" font-size="19.2" class="m">51N</text><path d="M94,153.4H100" stroke="#000" stroke-width="1.3"/><text x="88.5" y="160.0" text-anchor="end" font-size="19.2" class="m">48N</text><path d="M94,210.4H100" stroke="#000" stroke-width="1.3"/><text x="88.5" y="217.0" text-anchor="end" font-size="19.2" class="m">45N</text><path d="M94,267.4H100" stroke="#000" stroke-width="1.3"/><text x="88.5" y="274.0" text-anchor="end" font-size="19.2" class="m">42N</text><path d="M94,324.4H100" stroke="#000" stroke-width="1.3"/><text x="88.5" y="331.0" text-anchor="end" font-size="19.2" class="m">39N</text><path d="M94,381.4H100" stroke="#000" stroke-width="1.3"/><text x="88.5" y="388.0" text-anchor="end" font-size="19.2" class="m">36N</text><path d="M94,438.4H100" stroke="#000" stroke-width="1.3"/><text x="88.5" y="445.0" text-anchor="end" font-size="19.2" class="m">33N</text><path d="M94,495.4H100" stroke="#000" stroke-width="1.3"/><text x="88.5" y="502.0" text-anchor="end" font-size="19.2" class="m">30N</text><path d="M94,552.4H100" stroke="#000" stroke-width="1.3"/><text x="88.5" y="559.0" text-anchor="end" font-size="19.2" class="m">27N</text><path d="M94,609.4H100" stroke="#000" stroke-width="1.3"/><text x="88.5" y="616.0" text-anchor="end" font-size="19.2" class="m">24N</text><path d="M94,666.4H100" stroke="#000" stroke-width="1.3"/><text x="88.5" y="673.0" text-anchor="end" font-size="19.2" class="m">21N</text><path d="M131.5,723V730" stroke="#000" stroke-width="1.3"/><text x="132.0" y="747.3" text-anchor="middle" font-size="19.2" class="m">80E</text><path d="M210.6,723V730" stroke="#000" stroke-width="1.3"/><text x="211.1" y="747.3" text-anchor="middle" font-size="19.2" class="m">85E</text><path d="M289.7,723V730" stroke="#000" stroke-width="1.3"/><text x="290.2" y="747.3" text-anchor="middle" font-size="19.2" class="m">90E</text><path d="M368.8,723V730" stroke="#000" stroke-width="1.3"/><text x="369.3" y="747.3" text-anchor="middle" font-size="19.2" class="m">95E</text><path d="M447.9,723V730" stroke="#000" stroke-width="1.3"/><text x="448.4" y="747.3" text-anchor="middle" font-size="19.2" class="m">100E</text><path d="M527.0,723V730" stroke="#000" stroke-width="1.3"/><text x="527.5" y="747.3" text-anchor="middle" font-size="19.2" class="m">105E</text><path d="M606.1,723V730" stroke="#000" stroke-width="1.3"/><text x="606.6" y="747.3" text-anchor="middle" font-size="19.2" class="m">110E</text><path d="M685.2,723V730" stroke="#000" stroke-width="1.3"/><text x="685.7" y="747.3" text-anchor="middle" font-size="19.2" class="m">115E</text><path d="M764.3,723V730" stroke="#000" stroke-width="1.3"/><text x="764.8" y="747.3" text-anchor="middle" font-size="19.2" class="m">120E</text><path d="M843.4,723V730" stroke="#000" stroke-width="1.3"/><text x="843.9" y="747.3" text-anchor="middle" font-size="19.2" class="m">125E</text><path d="M922.5,723V730" stroke="#000" stroke-width="1.3"/><text x="923.0" y="747.3" text-anchor="middle" font-size="19.2" class="m">130E</text><path d="M1001.6,723V730" stroke="#000" stroke-width="1.3"/><text x="1002.1" y="747.3" text-anchor="middle" font-size="19.2" class="m">135E</text>
<text y="48" fill="#000"><tspan x="170.5 183.9 197.3 210.8" font-size="22.4" style="font-family:'Liberation Mono',monospace">2025</tspan><tspan x="227.6" font-size="20" style="font-family:'Liberation Serif','Noto Serif CJK SC',serif">年</tspan><tspan x="251.0 264.4" font-size="22.4" style="font-family:'Liberation Mono',monospace">10</tspan><tspan x="281.3" font-size="20" style="font-family:'Liberation Serif','Noto Serif CJK SC',serif">月</tspan><tspan x="304.7 318.1" font-size="22.4" style="font-family:'Liberation Mono',monospace">17</tspan><tspan x="335.0" font-size="20" style="font-family:'Liberation Serif','Noto Serif CJK SC',serif">日</tspan><tspan x="358.4 371.8 385.2 398.6 412.1 425.5 438.9 452.3" font-size="22.4" style="font-family:'Liberation Mono',monospace">WRF/cmaq</tspan><tspan x="469.2 496.0" font-size="20" style="font-family:'Liberation Serif','Noto Serif CJK SC',serif">模式</tspan><tspan x="519.4 532.8 546.2 559.7" font-size="22.4" style="font-family:'Liberation Mono',monospace">36km</tspan><tspan x="576.5 603.4 630.2 657.0" font-size="20" style="font-family:'Liberation Serif','Noto Serif CJK SC',serif">预报产品</tspan><tspan x="680.5 693.9 707.3" font-size="22.4" style="font-family:'Liberation Mono',monospace">:10</tspan><tspan x="724.1" font-size="20" style="font-family:'Liberation Serif','Noto Serif CJK SC',serif">月</tspan><tspan x="747.5 761.0" font-size="22.4" style="font-family:'Liberation Mono',monospace">17</tspan><tspan x="777.8" font-size="20" style="font-family:'Liberation Serif','Noto Serif CJK SC',serif">日</tspan><tspan x="801.2 814.6" font-size="22.4" style="font-family:'Liberation Mono',monospace">21</tspan><tspan x="831.5" font-size="20" style="font-family:'Liberation Serif','Noto Serif CJK SC',serif">时</tspan></text>
<text x="872" y="48" font-size="22.4" fill="#e83c3c" textLength="97" lengthAdjust="spacingAndGlyphs" style="font-family:'Liberation Mono',monospace">surface</text>
<g shape-rendering="crispEdges"><rect x="110.00" y="756" width="41.90" height="31.5" fill="#080862" stroke="#000" stroke-width="1"/><rect x="151.90" y="756" width="41.90" height="31.5" fill="#0000b0" stroke="#000" stroke-width="1"/><rect x="193.81" y="756" width="41.90" height="31.5" fill="#0000e4" stroke="#000" stroke-width="1"/><rect x="235.71" y="756" width="41.90" height="31.5" fill="#0420ff" stroke="#000" stroke-width="1"/><rect x="277.62" y="756" width="41.90" height="31.5" fill="#0054ff" stroke="#000" stroke-width="1"/><rect x="319.52" y="756" width="41.90" height="31.5" fill="#0088ff" stroke="#000" stroke-width="1"/><rect x="361.43" y="756" width="41.90" height="31.5" fill="#00bcff" stroke="#000" stroke-width="1"/><rect x="403.33" y="756" width="41.90" height="31.5" fill="#00f0ff" stroke="#000" stroke-width="1"/><rect x="445.24" y="756" width="41.90" height="31.5" fill="#20ffdc" stroke="#000" stroke-width="1"/><rect x="487.14" y="756" width="41.90" height="31.5" fill="#58ffa8" stroke="#000" stroke-width="1"/><rect x="529.05" y="756" width="41.90" height="31.5" fill="#90ff70" stroke="#000" stroke-width="1"/><rect x="570.95" y="756" width="41.90" height="31.5" fill="#c4ff3c" stroke="#000" stroke-width="1"/><rect x="612.86" y="756" width="41.90" height="31.5" fill="#f0ff14" stroke="#000" stroke-width="1"/><rect x="654.76" y="756" width="41.90" height="31.5" fill="#ffe000" stroke="#000" stroke-width="1"/><rect x="696.67" y="756" width="41.90" height="31.5" fill="#ffac00" stroke="#000" stroke-width="1"/><rect x="738.57" y="756" width="41.90" height="31.5" fill="#ff7800" stroke="#000" stroke-width="1"/><rect x="780.48" y="756" width="41.90" height="31.5" fill="#ff4400" stroke="#000" stroke-width="1"/><rect x="822.38" y="756" width="41.90" height="31.5" fill="#fc1408" stroke="#000" stroke-width="1"/><rect x="864.29" y="756" width="41.90" height="31.5" fill="#dc0000" stroke="#000" stroke-width="1"/><rect x="906.19" y="756" width="41.90" height="31.5" fill="#a80000" stroke="#000" stroke-width="1"/><rect x="948.10" y="756" width="41.90" height="31.5" fill="#800000" stroke="#000" stroke-width="1"/></g>
<text x="151.9" y="809.3" text-anchor="middle" font-size="24.2" class="m">−24</text>
<text x="235.7" y="809.3" text-anchor="middle" font-size="24.2" class="m">−20</text>
<text x="319.5" y="809.3" text-anchor="middle" font-size="24.2" class="m">−14</text>
<text x="403.3" y="809.3" text-anchor="middle" font-size="24.2" class="m">−8</text>
<text x="487.1" y="809.3" text-anchor="middle" font-size="24.2" class="m">−4</text>
<text x="571.0" y="809.3" text-anchor="middle" font-size="24.2" class="m">2</text>
<text x="654.8" y="809.3" text-anchor="middle" font-size="24.2" class="m">8</text>
<text x="738.6" y="809.3" text-anchor="middle" font-size="24.2" class="m">12</text>
<text x="822.4" y="809.3" text-anchor="middle" font-size="24.2" class="m">18</text>
<text x="906.2" y="809.3" text-anchor="middle" font-size="24.2" class="m">24</text>
<text x="661" y="830" font-size="20" textLength="172" lengthAdjust="spacing">版权所有:南京大学</text>
<path d="M834.5,807V839" stroke="#000" stroke-width="1.3"/>
<text x="845" y="830" font-size="20" textLength="197" lengthAdjust="spacing">南京创蓝科技有限公司</text>
</svg></body></html>
